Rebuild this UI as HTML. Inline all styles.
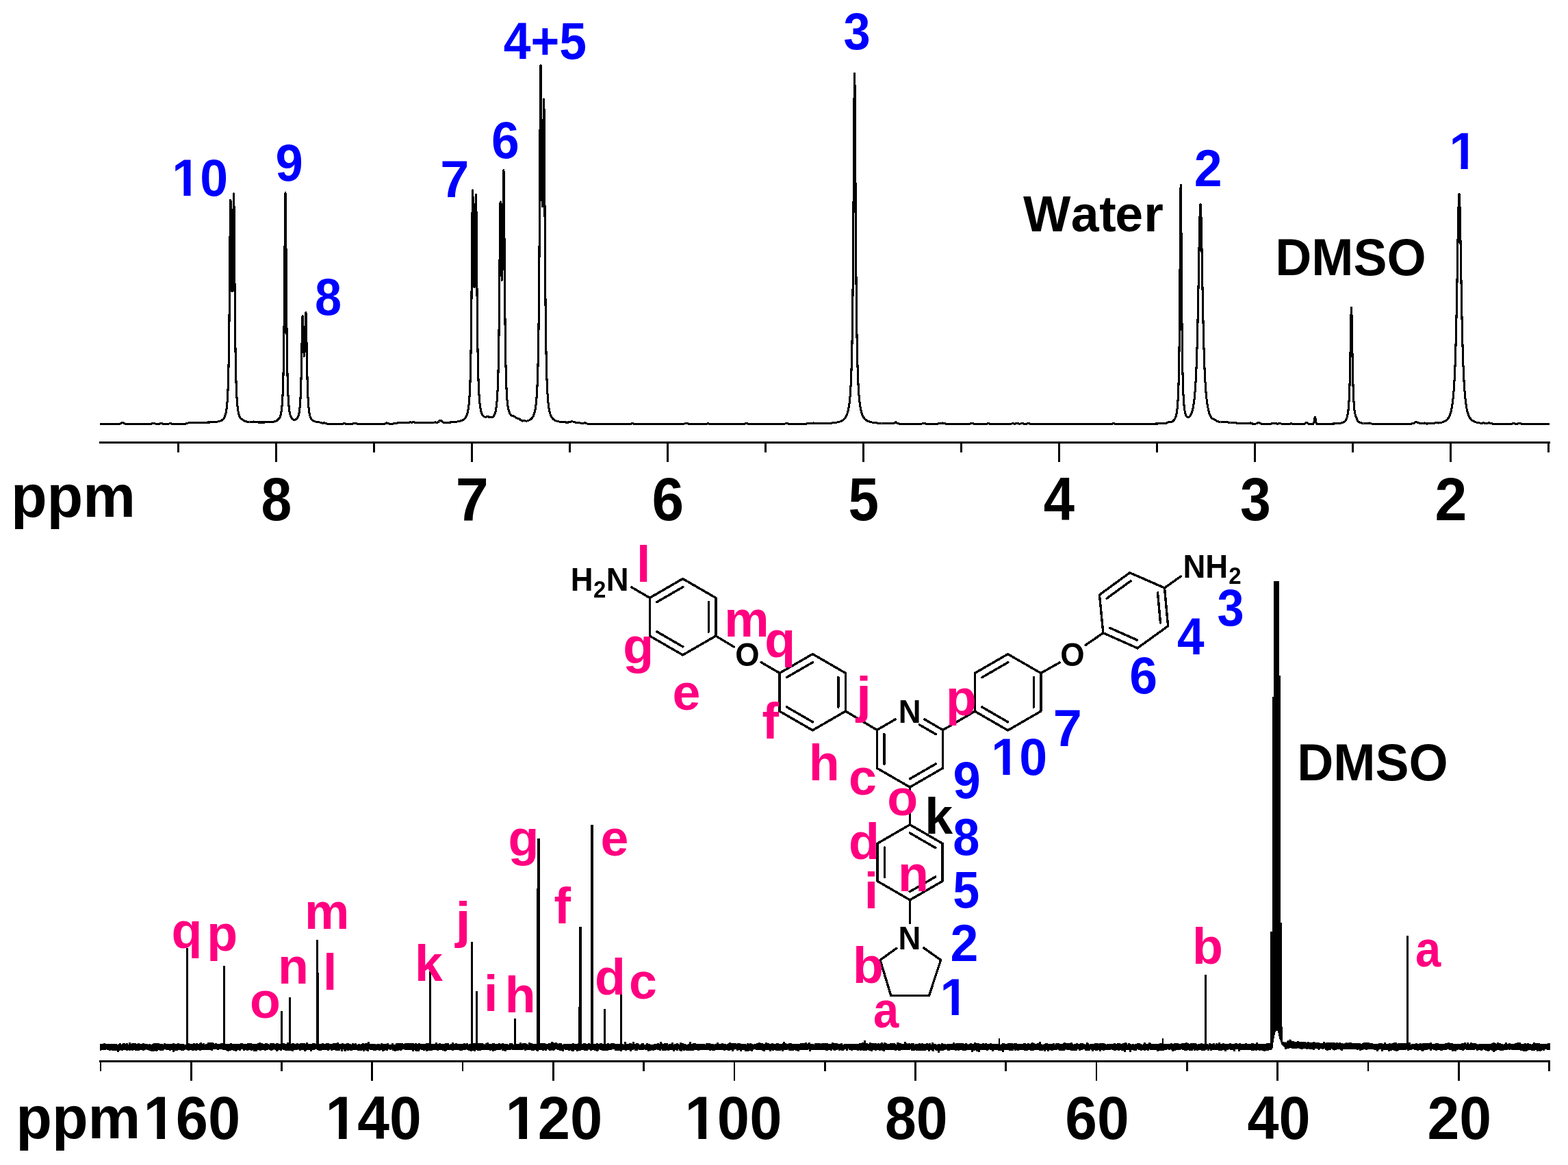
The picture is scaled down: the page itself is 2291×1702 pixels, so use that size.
<!DOCTYPE html>
<html><head><meta charset="utf-8"><title>NMR spectra</title>
<style>
html,body{margin:0;padding:0;background:#fff;width:2291px;height:1702px;}
svg{display:block;}
text{font-family:"Liberation Sans",Arial,Helvetica,sans-serif;font-weight:bold;}
</style></head>
<body>
<svg width="2291" height="1702" viewBox="0 0 2291 1702">
<defs><clipPath id="c1_735" clipPathUnits="userSpaceOnUse"><path d="M-5,-73.5 H441 V7.4 H39.7 V-7.94 H27.24 V1.5 H17.15 V-7.94 H-5 Z"/></clipPath><clipPath id="c1_863" clipPathUnits="userSpaceOnUse"><path d="M-5,-86.3 H518 V8.6 H46.6 V-9.32 H31.98 V1.7 H20.14 V-9.32 H-5 Z"/></clipPath></defs>
<rect width="2291" height="1702" fill="#fff"/>
<path d="M146.0,619.4 146.5,619.4 147.0,619.4 147.5,619.4 148.0,619.4 148.5,619.4 149.0,619.4 149.5,619.4 150.0,619.4 150.5,619.4 151.0,619.4 151.5,619.4 152.0,619.4 152.5,619.4 153.0,619.4 153.5,619.4 154.0,619.4 154.5,619.4 155.0,619.4 155.5,619.4 156.0,619.4 156.5,619.4 157.0,619.4 157.5,619.4 158.0,619.4 158.5,619.4 159.0,619.4 159.5,619.4 160.0,619.4 160.5,619.4 161.0,619.4 161.5,619.4 162.0,619.4 162.5,619.4 163.0,619.4 163.5,619.4 164.0,619.4 164.5,619.4 165.0,619.4 165.5,619.4 166.0,619.4 166.5,619.4 167.0,619.4 167.5,619.4 168.0,619.4 168.5,619.4 169.0,619.4 169.5,619.4 170.0,619.4 170.5,619.4 171.0,619.4 171.5,619.4 172.0,619.4 172.5,619.4 173.0,619.4 173.5,619.4 174.0,619.3 174.5,619.2 175.0,619.1 175.5,619.0 176.0,618.8 176.5,618.5 177.0,618.2 177.5,618.0 178.0,617.7 178.5,617.6 179.0,617.5 179.5,617.6 180.0,617.8 180.5,618.0 181.0,618.3 181.5,618.6 182.0,618.8 182.5,619.0 183.0,619.2 183.5,619.3 184.0,619.3 184.5,619.4 185.0,619.4 185.5,619.4 186.0,619.4 186.5,619.4 187.0,619.4 187.5,619.4 188.0,619.4 188.5,619.4 189.0,619.4 189.5,619.4 190.0,619.4 190.5,619.4 191.0,619.4 191.5,619.4 192.0,619.4 192.5,619.4 193.0,619.4 193.5,619.4 194.0,619.4 194.5,619.4 195.0,619.4 195.5,619.4 196.0,619.4 196.5,619.4 197.0,619.4 197.5,619.4 198.0,619.4 198.5,619.4 199.0,619.4 199.5,619.4 200.0,619.4 200.5,619.4 201.0,619.4 201.5,619.4 202.0,619.4 202.5,619.4 203.0,619.4 203.5,619.4 204.0,619.4 204.5,619.4 205.0,619.4 205.5,619.4 206.0,619.4 206.5,619.4 207.0,619.4 207.5,619.4 208.0,619.4 208.5,619.4 209.0,619.4 209.5,619.4 210.0,619.4 210.5,619.4 211.0,619.4 211.5,619.4 212.0,619.4 212.5,619.4 213.0,619.4 213.5,619.4 214.0,619.4 214.5,619.4 215.0,619.4 215.5,619.4 216.0,619.4 216.5,619.4 217.0,619.4 217.5,619.4 218.0,619.4 218.5,619.4 219.0,619.4 219.5,619.4 220.0,619.3 220.5,619.3 221.0,619.1 221.5,618.9 222.0,618.7 222.5,618.5 223.0,618.5 223.5,618.6 224.0,618.6 224.5,618.6 225.0,618.6 225.5,618.6 226.0,618.7 226.5,618.8 227.0,619.0 227.5,619.1 228.0,619.3 228.5,619.3 229.0,619.4 229.5,619.4 230.0,619.4 230.5,619.4 231.0,619.4 231.5,619.4 232.0,619.4 232.5,619.3 233.0,619.2 233.5,619.1 234.0,618.9 234.5,618.7 235.0,618.5 235.5,618.4 236.0,618.5 236.5,618.7 237.0,619.0 237.5,619.2 238.0,619.3 238.5,619.3 239.0,619.4 239.5,619.4 240.0,619.4 240.5,619.4 241.0,619.4 241.5,619.4 242.0,619.4 242.5,619.4 243.0,619.4 243.5,619.4 244.0,619.4 244.5,619.4 245.0,619.4 245.5,619.3 246.0,619.3 246.5,619.2 247.0,619.0 247.5,618.8 248.0,618.6 248.5,618.5 249.0,618.5 249.5,618.7 250.0,618.9 250.5,619.1 251.0,619.2 251.5,619.3 252.0,619.3 252.5,619.4 253.0,619.4 253.5,619.4 254.0,619.4 254.5,619.4 255.0,619.4 255.5,619.4 256.0,619.4 256.5,619.4 257.0,619.4 257.5,619.4 258.0,619.4 258.5,619.4 259.0,619.4 259.5,619.4 260.0,619.3 260.5,619.3 261.0,619.3 261.5,619.3 262.0,619.3 262.5,619.3 263.0,619.3 263.5,619.3 264.0,619.3 264.5,619.3 265.0,619.3 265.5,619.3 266.0,619.3 266.5,619.3 267.0,619.3 267.5,619.3 268.0,619.3 268.5,619.3 269.0,619.3 269.5,619.2 270.0,619.2 270.5,619.2 271.0,619.1 271.5,619.0 272.0,618.9 272.5,618.8 273.0,618.6 273.5,618.5 274.0,618.3 274.5,618.2 275.0,618.0 275.5,617.9 276.0,617.7 276.5,617.6 277.0,617.5 277.5,617.5 278.0,617.4 278.5,617.4 279.0,617.4 279.5,617.4 280.0,617.3 280.5,617.3 281.0,617.3 281.5,617.3 282.0,617.3 282.5,617.3 283.0,617.3 283.5,617.3 284.0,617.3 284.5,617.3 285.0,617.3 285.5,617.3 286.0,617.3 286.5,617.3 287.0,617.3 287.5,617.3 288.0,617.3 288.5,617.3 289.0,617.2 289.5,617.2 290.0,617.2 290.5,617.2 291.0,617.2 291.5,617.2 292.0,617.2 292.5,617.2 293.0,617.2 293.5,617.2 294.0,617.2 294.5,617.2 295.0,617.2 295.5,617.2 296.0,617.2 296.5,617.2 297.0,617.2 297.5,617.2 298.0,617.2 298.5,617.1 299.0,617.1 299.5,617.1 300.0,617.1 300.5,617.1 301.0,617.1 301.5,617.1 302.0,617.1 302.5,617.1 303.0,617.1 303.5,617.0 304.0,617.0 304.5,617.0 305.0,617.0 305.5,617.0 306.0,617.0 306.5,617.0 307.0,616.9 307.5,616.9 308.0,616.9 308.5,616.9 309.0,616.9 309.5,616.8 310.0,616.8 310.5,616.8 311.0,616.7 311.5,616.7 312.0,616.7 312.5,616.6 313.0,616.6 313.5,616.6 314.0,616.5 314.5,616.5 315.0,616.4 315.5,616.4 316.0,616.3 316.5,616.2 317.0,616.2 317.5,616.1 318.0,616.0 318.5,615.9 319.0,615.8 319.5,615.7 320.0,615.6 320.5,615.5 321.0,615.3 321.5,615.2 322.0,615.0 322.5,614.8 323.0,614.5 323.5,614.3 324.0,614.0 324.5,613.7 325.0,613.3 325.5,612.9 326.0,612.4 326.5,611.8 327.0,611.1 327.5,610.3 328.0,609.4 328.5,608.3 329.0,606.9 329.5,605.3 330.0,603.2 330.5,600.6 331.0,597.4 331.5,593.1 332.0,587.6 332.5,580.2 333.0,570.0 333.5,555.8 334.0,535.8 334.5,507.2 335.0,466.9 335.5,413.4 336.0,352.5 336.5,304.0 336.8,292.2 337.0,293.5 337.5,323.7 338.0,369.8 338.5,407.4 339.0,425.8 339.5,422.7 340.0,398.1 340.5,355.3 341.0,307.8 341.5,282.8 341.6,282.9 342.0,302.2 342.5,356.6 343.0,418.9 343.5,471.6 344.0,510.8 344.5,538.4 345.0,557.7 345.5,571.3 346.0,581.0 346.5,588.2 347.0,593.6 347.5,597.7 348.0,600.9 348.5,603.4 349.0,605.4 349.5,607.0 350.0,608.4 350.5,609.5 351.0,610.4 351.5,611.1 352.0,611.7 352.5,612.1 353.0,612.4 353.5,612.6 354.0,612.8 354.5,613.1 355.0,613.4 355.5,613.8 356.0,614.2 356.5,614.6 357.0,614.9 357.5,615.2 358.0,615.4 358.5,615.5 359.0,615.7 359.5,615.8 360.0,615.9 360.5,616.0 361.0,616.1 361.5,616.1 362.0,616.2 362.5,616.3 363.0,616.3 363.5,616.4 364.0,616.4 364.5,616.5 365.0,616.5 365.5,616.5 366.0,616.6 366.5,616.6 367.0,616.6 367.5,616.7 368.0,616.7 368.5,616.7 369.0,616.5 369.5,616.3 370.0,616.0 370.5,615.9 371.0,616.1 371.5,616.4 372.0,616.7 372.5,616.8 373.0,616.9 373.5,616.9 374.0,616.9 374.5,616.9 375.0,616.9 375.5,616.9 376.0,616.9 376.5,616.9 377.0,617.0 377.5,617.0 378.0,617.0 378.5,617.0 379.0,617.0 379.5,617.0 380.0,617.0 380.5,617.0 381.0,617.0 381.5,617.0 382.0,617.0 382.5,617.0 383.0,617.0 383.5,617.0 384.0,617.0 384.5,617.0 385.0,617.0 385.5,617.0 386.0,617.0 386.5,617.0 387.0,616.9 387.5,616.9 388.0,616.9 388.5,616.9 389.0,616.9 389.5,616.9 390.0,616.9 390.5,616.9 391.0,616.9 391.5,616.8 392.0,616.8 392.5,616.8 393.0,616.8 393.5,616.7 394.0,616.7 394.5,616.7 395.0,616.7 395.5,616.6 396.0,616.6 396.5,616.5 397.0,616.5 397.5,616.5 398.0,616.4 398.5,616.3 399.0,616.3 399.5,616.2 400.0,616.1 400.5,616.0 401.0,615.9 401.5,615.8 402.0,615.7 402.5,615.5 403.0,615.4 403.5,615.1 404.0,614.8 404.5,614.4 405.0,613.9 405.5,613.3 406.0,612.8 406.5,612.3 407.0,612.0 407.5,611.6 408.0,611.1 408.5,610.4 409.0,609.4 409.5,608.1 410.0,606.4 410.5,604.3 411.0,601.6 411.5,598.0 412.0,593.2 412.5,586.8 413.0,577.9 413.5,565.4 414.0,547.5 414.5,521.6 415.0,484.2 415.5,432.3 416.0,368.2 416.5,307.9 417.0,281.8 417.5,307.9 418.0,368.2 418.5,432.2 419.0,484.0 419.5,521.4 420.0,547.3 420.5,565.2 421.0,577.6 421.5,586.5 422.0,592.9 422.5,597.6 423.0,601.1 423.5,603.8 424.0,605.9 424.5,607.5 425.0,608.8 425.5,609.9 426.0,610.7 426.5,611.3 427.0,611.9 427.5,612.3 428.0,612.6 428.5,612.9 429.0,613.1 429.5,613.2 430.0,613.2 430.5,613.2 431.0,613.2 431.5,613.1 432.0,612.9 432.5,612.7 433.0,612.4 433.5,612.0 434.0,611.4 434.5,610.7 435.0,609.9 435.5,608.8 436.0,607.4 436.5,605.6 437.0,603.2 437.5,600.1 438.0,595.8 438.5,589.9 439.0,581.7 439.5,570.1 440.0,553.9 440.5,532.0 441.0,505.0 441.5,478.2 442.0,462.2 442.1,461.2 442.5,464.9 443.0,482.1 443.5,501.9 444.0,515.8 444.5,520.3 445.0,514.6 445.5,499.5 446.0,478.4 446.5,460.3 446.9,456.2 447.0,457.2 447.5,473.7 448.0,501.4 448.5,529.4 449.0,552.2 449.5,569.0 450.0,581.0 450.5,589.5 451.0,595.7 451.5,600.1 452.0,603.4 452.5,605.9 453.0,607.9 453.5,609.4 454.0,610.6 454.5,611.5 455.0,612.3 455.5,612.9 456.0,613.5 456.5,613.9 457.0,614.3 457.5,614.6 458.0,614.9 458.5,615.1 459.0,615.3 459.5,615.5 460.0,615.7 460.5,615.8 461.0,616.0 461.5,616.1 462.0,616.2 462.5,616.3 463.0,616.3 463.5,616.4 464.0,616.5 464.5,616.6 465.0,616.6 465.5,616.7 466.0,616.8 466.5,616.9 467.0,617.0 467.5,617.1 468.0,617.2 468.5,617.4 469.0,617.5 469.5,617.7 470.0,617.9 470.5,618.0 471.0,618.1 471.5,618.1 472.0,618.1 472.5,618.0 473.0,617.9 473.5,617.8 474.0,617.8 474.5,617.9 475.0,618.0 475.5,618.3 476.0,618.5 476.5,618.7 477.0,618.9 477.5,619.0 478.0,619.1 478.5,619.1 479.0,619.1 479.5,619.2 480.0,619.2 480.5,619.2 481.0,619.2 481.5,619.2 482.0,619.2 482.5,619.2 483.0,619.2 483.5,619.2 484.0,619.2 484.5,619.2 485.0,619.2 485.5,619.2 486.0,619.2 486.5,619.2 487.0,619.3 487.5,619.3 488.0,619.3 488.5,619.3 489.0,619.3 489.5,619.3 490.0,619.3 490.5,619.3 491.0,619.3 491.5,619.3 492.0,619.3 492.5,619.3 493.0,619.3 493.5,619.3 494.0,619.3 494.5,619.3 495.0,619.3 495.5,619.3 496.0,619.3 496.5,619.3 497.0,619.3 497.5,619.3 498.0,619.3 498.5,619.3 499.0,619.3 499.5,619.3 500.0,619.3 500.5,619.3 501.0,619.3 501.5,619.2 502.0,619.0 502.5,618.7 503.0,618.3 503.5,618.1 504.0,618.3 504.5,618.7 505.0,619.1 505.5,619.2 506.0,619.3 506.5,619.3 507.0,619.3 507.5,619.3 508.0,619.3 508.5,619.3 509.0,619.3 509.5,619.3 510.0,619.3 510.5,619.3 511.0,619.3 511.5,619.3 512.0,619.3 512.5,619.3 513.0,619.3 513.5,619.3 514.0,619.3 514.5,619.2 515.0,619.1 515.5,619.0 516.0,618.9 516.5,618.7 517.0,618.5 517.5,618.4 518.0,618.2 518.5,618.2 519.0,618.2 519.5,618.3 520.0,618.4 520.5,618.6 521.0,618.8 521.5,619.0 522.0,619.1 522.5,619.2 523.0,619.3 523.5,619.3 524.0,619.3 524.5,619.3 525.0,619.3 525.5,619.3 526.0,619.4 526.5,619.4 527.0,619.4 527.5,619.4 528.0,619.4 528.5,619.4 529.0,619.4 529.5,619.4 530.0,619.4 530.5,619.4 531.0,619.4 531.5,619.4 532.0,619.4 532.5,619.4 533.0,619.4 533.5,619.4 534.0,619.4 534.5,619.4 535.0,619.4 535.5,619.4 536.0,619.4 536.5,619.4 537.0,619.4 537.5,619.4 538.0,619.4 538.5,619.4 539.0,619.4 539.5,619.4 540.0,619.4 540.5,619.4 541.0,619.4 541.5,619.4 542.0,619.4 542.5,619.4 543.0,619.4 543.5,619.4 544.0,619.4 544.5,619.4 545.0,619.4 545.5,619.4 546.0,619.4 546.5,619.4 547.0,619.4 547.5,619.4 548.0,619.4 548.5,619.4 549.0,619.4 549.5,619.4 550.0,619.4 550.5,619.4 551.0,619.4 551.5,619.4 552.0,619.4 552.5,619.4 553.0,619.4 553.5,619.4 554.0,619.4 554.5,619.4 555.0,619.4 555.5,619.4 556.0,619.4 556.5,619.4 557.0,619.4 557.5,619.4 558.0,619.4 558.5,619.4 559.0,619.4 559.5,619.4 560.0,619.4 560.5,619.3 561.0,619.3 561.5,619.3 562.0,619.3 562.5,619.2 563.0,618.9 563.5,618.5 564.0,618.1 564.5,617.8 565.0,617.8 565.5,618.0 566.0,618.2 566.5,618.4 567.0,618.6 567.5,618.7 568.0,618.9 568.5,619.0 569.0,619.1 569.5,619.2 570.0,619.2 570.5,619.3 571.0,619.3 571.5,619.3 572.0,619.2 572.5,619.2 573.0,619.2 573.5,619.1 574.0,619.1 574.5,619.0 575.0,618.9 575.5,618.8 576.0,618.7 576.5,618.7 577.0,618.6 577.5,618.5 578.0,618.4 578.5,618.3 579.0,618.2 579.5,618.1 580.0,618.0 580.5,618.0 581.0,617.9 581.5,617.9 582.0,617.9 582.5,617.8 583.0,617.8 583.5,617.8 584.0,617.8 584.5,617.8 585.0,617.8 585.5,617.8 586.0,617.8 586.5,617.8 587.0,617.8 587.5,617.8 588.0,617.8 588.5,617.7 589.0,617.7 589.5,617.7 590.0,617.7 590.5,617.7 591.0,617.7 591.5,617.7 592.0,617.7 592.5,617.7 593.0,617.7 593.5,617.7 594.0,617.7 594.5,617.7 595.0,617.7 595.5,617.7 596.0,617.7 596.5,617.7 597.0,617.6 597.5,617.5 598.0,617.2 598.5,616.9 599.0,616.6 599.5,616.5 600.0,616.7 600.5,616.9 601.0,617.2 601.5,617.3 602.0,617.3 602.5,617.1 603.0,616.8 603.5,616.6 604.0,616.6 604.5,616.7 605.0,616.9 605.5,617.2 606.0,617.4 606.5,617.6 607.0,617.7 607.5,617.7 608.0,617.7 608.5,617.7 609.0,617.7 609.5,617.7 610.0,617.7 610.5,617.7 611.0,617.7 611.5,617.7 612.0,617.7 612.5,617.7 613.0,617.7 613.5,617.7 614.0,617.7 614.5,617.7 615.0,617.7 615.5,617.7 616.0,617.7 616.5,617.7 617.0,617.7 617.5,617.7 618.0,617.7 618.5,617.7 619.0,617.7 619.5,617.7 620.0,617.7 620.5,617.7 621.0,617.7 621.5,617.7 622.0,617.7 622.5,617.7 623.0,617.7 623.5,617.7 624.0,617.7 624.5,617.7 625.0,617.7 625.5,617.7 626.0,617.7 626.5,617.7 627.0,617.7 627.5,617.7 628.0,617.7 628.5,617.7 629.0,617.7 629.5,617.7 630.0,617.6 630.5,617.6 631.0,617.6 631.5,617.6 632.0,617.6 632.5,617.6 633.0,617.6 633.5,617.5 634.0,617.4 634.5,617.2 635.0,617.0 635.5,616.9 636.0,616.9 636.5,617.1 637.0,617.2 637.5,617.4 638.0,617.4 638.5,617.4 639.0,617.2 639.5,617.0 640.0,616.7 640.5,616.4 641.0,615.9 641.5,615.5 642.0,615.0 642.5,614.7 643.0,614.4 643.5,614.3 644.0,614.4 644.5,614.6 645.0,615.0 645.5,615.4 646.0,615.9 646.5,616.3 647.0,616.6 647.5,616.9 648.0,617.1 648.5,617.2 649.0,617.3 649.5,617.3 650.0,617.3 650.5,617.3 651.0,617.3 651.5,617.3 652.0,617.3 652.5,617.3 653.0,617.2 653.5,617.2 654.0,617.2 654.5,617.2 655.0,617.2 655.5,617.1 656.0,617.1 656.5,617.1 657.0,617.1 657.5,617.0 658.0,617.0 658.5,617.0 659.0,616.9 659.5,616.9 660.0,616.9 660.5,616.8 661.0,616.8 661.5,616.8 662.0,616.7 662.5,616.7 663.0,616.6 663.5,616.6 664.0,616.5 664.5,616.5 665.0,616.4 665.5,616.4 666.0,616.3 666.5,616.2 667.0,616.2 667.5,616.1 668.0,616.0 668.5,615.9 669.0,615.8 669.5,615.7 670.0,615.6 670.5,615.5 671.0,615.4 671.5,615.3 672.0,615.2 672.5,615.1 673.0,614.9 673.5,614.7 674.0,614.6 674.5,614.4 675.0,614.2 675.5,614.0 676.0,613.7 676.5,613.4 677.0,613.1 677.5,612.8 678.0,612.4 678.5,612.0 679.0,611.5 679.5,611.0 680.0,610.3 680.5,609.6 681.0,608.8 681.5,607.8 682.0,606.6 682.5,605.2 683.0,603.5 683.5,601.5 684.0,599.0 684.5,595.8 685.0,591.8 685.5,586.5 686.0,579.7 686.5,570.5 687.0,557.9 687.5,540.4 688.0,515.7 688.5,481.1 689.0,433.7 689.5,374.7 690.0,315.5 690.5,280.1 690.6,278.0 691.0,287.5 691.5,327.7 692.0,373.7 692.5,406.7 693.0,419.9 693.5,412.3 694.0,384.6 694.5,341.8 695.0,299.6 695.5,284.4 696.0,311.4 696.5,366.7 697.0,425.7 697.5,474.6 698.0,510.8 698.5,536.5 699.0,554.7 699.5,567.6 700.0,576.9 700.5,583.8 701.0,589.1 701.5,593.1 702.0,596.4 702.5,599.0 703.0,601.2 703.5,602.9 704.0,604.4 704.5,605.5 705.0,606.5 705.5,607.2 706.0,607.8 706.5,608.2 707.0,608.6 707.5,608.8 708.0,609.0 708.5,609.1 709.0,609.2 709.5,609.3 710.0,609.3 710.5,609.2 711.0,609.0 711.5,608.7 712.0,608.3 712.5,608.1 713.0,608.2 713.5,608.6 714.0,609.0 714.5,609.4 715.0,609.6 715.5,609.7 716.0,609.7 716.5,609.8 717.0,609.8 717.5,609.8 718.0,609.8 718.5,609.7 719.0,609.6 719.5,609.4 720.0,609.1 720.5,608.7 721.0,608.3 721.5,607.7 722.0,606.9 722.5,605.9 723.0,604.8 723.5,603.3 724.0,601.4 724.5,599.1 725.0,596.0 725.5,592.0 726.0,586.8 726.5,580.2 727.0,571.6 727.5,560.0 728.0,543.7 728.5,520.6 729.0,487.9 729.5,443.3 730.0,387.6 730.5,331.4 731.0,297.2 731.1,294.9 731.5,302.4 732.0,337.7 732.5,377.4 733.0,403.6 733.5,409.3 734.0,393.1 734.5,355.6 735.0,304.2 735.5,259.4 735.9,248.6 736.0,250.8 736.5,289.2 737.0,353.9 737.5,418.4 738.0,470.1 738.5,507.9 739.0,534.7 739.5,553.7 740.0,567.2 740.5,577.0 741.0,584.1 741.5,589.4 742.0,593.3 742.5,596.3 743.0,598.6 743.5,600.4 744.0,601.9 744.5,603.2 745.0,604.2 745.5,605.1 746.0,605.8 746.5,606.4 747.0,606.8 747.5,607.1 748.0,607.4 748.5,607.5 749.0,607.7 749.5,607.8 750.0,607.9 750.5,608.1 751.0,608.3 751.5,608.5 752.0,608.8 752.5,609.1 753.0,609.4 753.5,609.7 754.0,610.1 754.5,610.4 755.0,610.7 755.5,611.0 756.0,611.2 756.5,611.4 757.0,611.5 757.5,611.6 758.0,611.8 758.5,612.0 759.0,612.2 759.5,612.5 760.0,612.9 760.5,613.4 761.0,613.8 761.5,614.2 762.0,614.6 762.5,614.8 763.0,615.0 763.5,615.0 764.0,614.9 764.5,614.8 765.0,614.7 765.5,614.6 766.0,614.6 766.5,614.7 767.0,614.8 767.5,614.9 768.0,615.0 768.5,615.1 769.0,615.1 769.5,615.1 770.0,615.0 770.5,614.9 771.0,614.7 771.5,614.6 772.0,614.4 772.5,614.2 773.0,614.0 773.5,613.8 774.0,613.5 774.5,613.2 775.0,612.9 775.5,612.5 776.0,612.1 776.5,611.6 777.0,611.1 777.5,610.5 778.0,609.8 778.5,609.0 779.0,608.1 779.5,607.1 780.0,605.8 780.5,604.4 781.0,602.7 781.5,600.7 782.0,598.2 782.5,595.2 783.0,591.6 783.5,587.0 784.0,581.2 784.5,573.9 785.0,564.3 785.5,551.6 786.0,534.5 786.5,511.1 787.0,478.6 787.5,433.5 788.0,371.6 788.5,291.5 789.0,200.5 789.5,123.6 789.9,96.0 790.0,95.4 790.5,127.3 791.0,192.2 791.5,254.2 792.0,292.8 792.5,301.6 793.0,280.5 793.5,234.5 794.0,179.2 794.5,145.3 794.7,145.1 795.0,161.5 795.5,225.1 796.0,306.9 796.5,381.9 797.0,440.7 797.5,484.0 798.0,515.1 798.5,537.6 799.0,554.1 799.5,566.3 800.0,575.5 800.5,582.6 801.0,588.2 801.5,592.6 802.0,596.1 802.5,599.0 803.0,601.3 803.5,603.3 804.0,605.0 804.5,606.4 805.0,607.6 805.5,608.6 806.0,609.5 806.5,610.2 807.0,610.9 807.5,611.5 808.0,612.0 808.5,612.5 809.0,612.9 809.5,613.2 810.0,613.6 810.5,613.9 811.0,614.1 811.5,614.4 812.0,614.6 812.5,614.8 813.0,615.0 813.5,615.2 814.0,615.3 814.5,615.4 815.0,615.6 815.5,615.7 816.0,615.8 816.5,615.9 817.0,616.0 817.5,616.1 818.0,616.2 818.5,616.3 819.0,616.3 819.5,616.4 820.0,616.5 820.5,616.5 821.0,616.6 821.5,616.6 822.0,616.7 822.5,616.7 823.0,616.8 823.5,616.8 824.0,616.8 824.5,616.9 825.0,616.9 825.5,616.9 826.0,617.0 826.5,617.0 827.0,617.0 827.5,617.0 828.0,617.1 828.5,617.1 829.0,617.1 829.5,617.0 830.0,617.0 830.5,617.0 831.0,616.9 831.5,616.8 832.0,616.7 832.5,616.6 833.0,616.4 833.5,616.3 834.0,616.1 834.5,616.0 835.0,615.9 835.5,615.9 836.0,615.9 836.5,615.9 837.0,616.0 837.5,616.1 838.0,616.2 838.5,616.4 839.0,616.6 839.5,616.7 840.0,616.9 840.5,617.0 841.0,617.2 841.5,617.3 842.0,617.3 842.5,617.4 843.0,617.5 843.5,617.5 844.0,617.6 844.5,617.6 845.0,617.6 845.5,617.7 846.0,617.7 846.5,617.8 847.0,617.8 847.5,617.9 848.0,618.0 848.5,618.1 849.0,618.2 849.5,618.3 850.0,618.3 850.5,618.4 851.0,618.5 851.5,618.5 852.0,618.4 852.5,618.3 853.0,618.2 853.5,618.1 854.0,617.9 854.5,617.9 855.0,617.9 855.5,618.1 856.0,618.3 856.5,618.5 857.0,618.7 857.5,618.9 858.0,619.0 858.5,619.1 859.0,619.2 859.5,619.2 860.0,619.2 860.5,619.2 861.0,619.2 861.5,619.2 862.0,619.2 862.5,619.2 863.0,619.3 863.5,619.3 864.0,619.3 864.5,619.3 865.0,619.3 865.5,619.3 866.0,619.3 866.5,619.3 867.0,619.3 867.5,619.3 868.0,619.3 868.5,619.3 869.0,619.3 869.5,619.3 870.0,619.3 870.5,619.3 871.0,619.3 871.5,619.3 872.0,619.3 872.5,619.3 873.0,619.3 873.5,619.3 874.0,619.3 874.5,619.3 875.0,619.3 875.5,619.3 876.0,619.3 876.5,619.3 877.0,619.3 877.5,619.3 878.0,619.3 878.5,619.3 879.0,619.3 879.5,619.3 880.0,619.3 880.5,619.3 881.0,619.3 881.5,619.3 882.0,619.3 882.5,619.3 883.0,619.3 883.5,619.3 884.0,619.3 884.5,619.3 885.0,619.3 885.5,619.3 886.0,619.3 886.5,619.3 887.0,619.3 887.5,619.3 888.0,619.3 888.5,619.3 889.0,619.3 889.5,619.3 890.0,619.3 890.5,619.3 891.0,619.3 891.5,619.3 892.0,619.3 892.5,619.3 893.0,619.3 893.5,619.3 894.0,619.3 894.5,619.3 895.0,619.3 895.5,619.3 896.0,619.3 896.5,619.3 897.0,619.3 897.5,619.3 898.0,619.3 898.5,619.3 899.0,619.3 899.5,619.3 900.0,619.3 900.5,619.3 901.0,619.3 901.5,619.3 902.0,619.3 902.5,619.3 903.0,619.3 903.5,619.3 904.0,619.3 904.5,619.3 905.0,619.3 905.5,619.3 906.0,619.3 906.5,619.3 907.0,619.3 907.5,619.3 908.0,619.3 908.5,619.3 909.0,619.3 909.5,619.3 910.0,619.3 910.5,619.3 911.0,619.3 911.5,619.3 912.0,619.3 912.5,619.3 913.0,619.3 913.5,619.4 914.0,619.4 914.5,619.4 915.0,619.4 915.5,619.4 916.0,619.4 916.5,619.4 917.0,619.4 917.5,619.4 918.0,619.4 918.5,619.4 919.0,619.4 919.5,619.4 920.0,619.4 920.5,619.4 921.0,619.4 921.5,619.3 922.0,619.3 922.5,619.2 923.0,619.0 923.5,618.7 924.0,618.6 924.5,618.6 925.0,618.8 925.5,619.1 926.0,619.2 926.5,619.3 927.0,619.4 927.5,619.4 928.0,619.4 928.5,619.4 929.0,619.4 929.5,619.4 930.0,619.4 930.5,619.4 931.0,619.4 931.5,619.4 932.0,619.4 932.5,619.4 933.0,619.4 933.5,619.4 934.0,619.4 934.5,619.4 935.0,619.4 935.5,619.4 936.0,619.4 936.5,619.4 937.0,619.4 937.5,619.4 938.0,619.4 938.5,619.4 939.0,619.4 939.5,619.4 940.0,619.4 940.5,619.4 941.0,619.4 941.5,619.4 942.0,619.4 942.5,619.4 943.0,619.4 943.5,619.4 944.0,619.4 944.5,619.4 945.0,619.4 945.5,619.4 946.0,619.4 946.5,619.4 947.0,619.4 947.5,619.4 948.0,619.4 948.5,619.4 949.0,619.4 949.5,619.4 950.0,619.4 950.5,619.4 951.0,619.4 951.5,619.4 952.0,619.4 952.5,619.4 953.0,619.4 953.5,619.4 954.0,619.4 954.5,619.4 955.0,619.4 955.5,619.4 956.0,619.4 956.5,619.4 957.0,619.4 957.5,619.4 958.0,619.4 958.5,619.4 959.0,619.4 959.5,619.4 960.0,619.4 960.5,619.4 961.0,619.4 961.5,619.4 962.0,619.4 962.5,619.4 963.0,619.4 963.5,619.4 964.0,619.4 964.5,619.4 965.0,619.4 965.5,619.4 966.0,619.4 966.5,619.4 967.0,619.4 967.5,619.4 968.0,619.4 968.5,619.4 969.0,619.4 969.5,619.4 970.0,619.4 970.5,619.4 971.0,619.4 971.5,619.4 972.0,619.4 972.5,619.4 973.0,619.4 973.5,619.4 974.0,619.4 974.5,619.4 975.0,619.4 975.5,619.4 976.0,619.4 976.5,619.4 977.0,619.4 977.5,619.4 978.0,619.4 978.5,619.4 979.0,619.4 979.5,619.4 980.0,619.4 980.5,619.4 981.0,619.4 981.5,619.4 982.0,619.4 982.5,619.4 983.0,619.4 983.5,619.4 984.0,619.4 984.5,619.4 985.0,619.4 985.5,619.4 986.0,619.4 986.5,619.4 987.0,619.4 987.5,619.4 988.0,619.4 988.5,619.4 989.0,619.4 989.5,619.4 990.0,619.4 990.5,619.4 991.0,619.4 991.5,619.4 992.0,619.4 992.5,619.4 993.0,619.4 993.5,619.4 994.0,619.4 994.5,619.4 995.0,619.4 995.5,619.4 996.0,619.4 996.5,619.4 997.0,619.4 997.5,619.4 998.0,619.3 998.5,619.3 999.0,619.3 999.5,619.2 1000.0,619.0 1000.5,618.8 1001.0,618.6 1001.5,618.4 1002.0,618.2 1002.5,618.1 1003.0,618.1 1003.5,618.2 1004.0,618.4 1004.5,618.6 1005.0,618.8 1005.5,619.0 1006.0,619.1 1006.5,619.2 1007.0,619.3 1007.5,619.3 1008.0,619.4 1008.5,619.4 1009.0,619.4 1009.5,619.4 1010.0,619.4 1010.5,619.4 1011.0,619.4 1011.5,619.4 1012.0,619.4 1012.5,619.4 1013.0,619.4 1013.5,619.4 1014.0,619.4 1014.5,619.4 1015.0,619.4 1015.5,619.4 1016.0,619.4 1016.5,619.4 1017.0,619.4 1017.5,619.4 1018.0,619.4 1018.5,619.4 1019.0,619.4 1019.5,619.4 1020.0,619.4 1020.5,619.4 1021.0,619.4 1021.5,619.4 1022.0,619.4 1022.5,619.4 1023.0,619.4 1023.5,619.4 1024.0,619.4 1024.5,619.4 1025.0,619.4 1025.5,619.4 1026.0,619.4 1026.5,619.4 1027.0,619.4 1027.5,619.4 1028.0,619.4 1028.5,619.4 1029.0,619.4 1029.5,619.4 1030.0,619.4 1030.5,619.4 1031.0,619.4 1031.5,619.4 1032.0,619.3 1032.5,619.2 1033.0,619.1 1033.5,618.9 1034.0,618.7 1034.5,618.6 1035.0,618.7 1035.5,618.9 1036.0,619.1 1036.5,619.2 1037.0,619.3 1037.5,619.4 1038.0,619.4 1038.5,619.4 1039.0,619.4 1039.5,619.4 1040.0,619.4 1040.5,619.4 1041.0,619.4 1041.5,619.4 1042.0,619.4 1042.5,619.4 1043.0,619.4 1043.5,619.4 1044.0,619.4 1044.5,619.4 1045.0,619.4 1045.5,619.4 1046.0,619.4 1046.5,619.4 1047.0,619.4 1047.5,619.4 1048.0,619.4 1048.5,619.4 1049.0,619.4 1049.5,619.4 1050.0,619.4 1050.5,619.4 1051.0,619.4 1051.5,619.4 1052.0,619.4 1052.5,619.4 1053.0,619.4 1053.5,619.4 1054.0,619.4 1054.5,619.4 1055.0,619.4 1055.5,619.4 1056.0,619.4 1056.5,619.4 1057.0,619.4 1057.5,619.4 1058.0,619.4 1058.5,619.4 1059.0,619.4 1059.5,619.4 1060.0,619.4 1060.5,619.4 1061.0,619.4 1061.5,619.4 1062.0,619.4 1062.5,619.4 1063.0,619.4 1063.5,619.4 1064.0,619.4 1064.5,619.4 1065.0,619.4 1065.5,619.4 1066.0,619.4 1066.5,619.4 1067.0,619.4 1067.5,619.4 1068.0,619.4 1068.5,619.4 1069.0,619.4 1069.5,619.4 1070.0,619.4 1070.5,619.4 1071.0,619.4 1071.5,619.4 1072.0,619.4 1072.5,619.4 1073.0,619.4 1073.5,619.4 1074.0,619.4 1074.5,619.4 1075.0,619.4 1075.5,619.4 1076.0,619.4 1076.5,619.4 1077.0,619.4 1077.5,619.4 1078.0,619.4 1078.5,619.4 1079.0,619.4 1079.5,619.4 1080.0,619.4 1080.5,619.4 1081.0,619.4 1081.5,619.4 1082.0,619.4 1082.5,619.3 1083.0,619.3 1083.5,619.3 1084.0,619.3 1084.5,619.3 1085.0,619.3 1085.5,619.3 1086.0,619.3 1086.5,619.3 1087.0,619.3 1087.5,619.3 1088.0,619.2 1088.5,619.1 1089.0,618.9 1089.5,618.7 1090.0,618.5 1090.5,618.3 1091.0,618.4 1091.5,618.5 1092.0,618.7 1092.5,618.9 1093.0,619.1 1093.5,619.2 1094.0,619.3 1094.5,619.3 1095.0,619.3 1095.5,619.3 1096.0,619.3 1096.5,619.3 1097.0,619.3 1097.5,619.3 1098.0,619.3 1098.5,619.3 1099.0,619.3 1099.5,619.3 1100.0,619.3 1100.5,619.3 1101.0,619.3 1101.5,619.3 1102.0,619.3 1102.5,619.3 1103.0,619.3 1103.5,619.3 1104.0,619.3 1104.5,619.3 1105.0,619.3 1105.5,619.3 1106.0,619.3 1106.5,619.3 1107.0,619.3 1107.5,619.3 1108.0,619.3 1108.5,619.3 1109.0,619.3 1109.5,619.3 1110.0,619.3 1110.5,619.3 1111.0,619.3 1111.5,619.3 1112.0,619.3 1112.5,619.3 1113.0,619.3 1113.5,619.3 1114.0,619.3 1114.5,619.3 1115.0,619.3 1115.5,619.3 1116.0,619.3 1116.5,619.3 1117.0,619.3 1117.5,619.3 1118.0,619.3 1118.5,619.3 1119.0,619.3 1119.5,619.3 1120.0,619.3 1120.5,619.3 1121.0,619.3 1121.5,619.3 1122.0,619.3 1122.5,619.3 1123.0,619.3 1123.5,619.3 1124.0,619.3 1124.5,619.3 1125.0,619.3 1125.5,619.3 1126.0,619.3 1126.5,619.3 1127.0,619.3 1127.5,619.3 1128.0,619.3 1128.5,619.3 1129.0,619.3 1129.5,619.3 1130.0,619.3 1130.5,619.3 1131.0,619.3 1131.5,619.3 1132.0,619.3 1132.5,619.3 1133.0,619.3 1133.5,619.3 1134.0,619.3 1134.5,619.3 1135.0,619.3 1135.5,619.3 1136.0,619.3 1136.5,619.3 1137.0,619.3 1137.5,619.3 1138.0,619.3 1138.5,619.3 1139.0,619.3 1139.5,619.3 1140.0,619.3 1140.5,619.3 1141.0,619.3 1141.5,619.3 1142.0,619.3 1142.5,619.3 1143.0,619.3 1143.5,619.3 1144.0,619.3 1144.5,619.3 1145.0,619.3 1145.5,619.3 1146.0,619.2 1146.5,619.1 1147.0,619.0 1147.5,618.8 1148.0,618.6 1148.5,618.4 1149.0,618.3 1149.5,618.3 1150.0,618.5 1150.5,618.7 1151.0,618.9 1151.5,619.0 1152.0,619.2 1152.5,619.2 1153.0,619.2 1153.5,619.2 1154.0,619.2 1154.5,619.2 1155.0,619.2 1155.5,619.2 1156.0,619.2 1156.5,619.2 1157.0,619.2 1157.5,619.2 1158.0,619.2 1158.5,619.2 1159.0,619.2 1159.5,619.2 1160.0,619.2 1160.5,619.2 1161.0,619.2 1161.5,619.2 1162.0,619.2 1162.5,619.2 1163.0,619.2 1163.5,619.2 1164.0,619.2 1164.5,619.2 1165.0,619.2 1165.5,619.2 1166.0,619.2 1166.5,619.2 1167.0,619.2 1167.5,619.2 1168.0,619.2 1168.5,619.2 1169.0,619.2 1169.5,619.2 1170.0,619.2 1170.5,619.2 1171.0,619.2 1171.5,619.2 1172.0,619.2 1172.5,619.2 1173.0,619.2 1173.5,619.2 1174.0,619.2 1174.5,619.1 1175.0,619.1 1175.5,619.1 1176.0,619.1 1176.5,619.1 1177.0,619.1 1177.5,619.1 1178.0,619.1 1178.5,619.0 1179.0,618.9 1179.5,618.8 1180.0,618.6 1180.5,618.4 1181.0,618.3 1181.5,618.3 1182.0,618.4 1182.5,618.5 1183.0,618.7 1183.5,618.8 1184.0,618.9 1184.5,618.9 1185.0,618.8 1185.5,618.7 1186.0,618.6 1186.5,618.4 1187.0,618.2 1187.5,618.1 1188.0,618.0 1188.5,618.0 1189.0,618.0 1189.5,618.1 1190.0,618.2 1190.5,618.4 1191.0,618.5 1191.5,618.7 1192.0,618.8 1192.5,618.8 1193.0,618.9 1193.5,618.9 1194.0,618.9 1194.5,618.9 1195.0,618.9 1195.5,618.9 1196.0,618.9 1196.5,618.9 1197.0,618.9 1197.5,618.8 1198.0,618.8 1198.5,618.8 1199.0,618.8 1199.5,618.8 1200.0,618.8 1200.5,618.8 1201.0,618.8 1201.5,618.7 1202.0,618.7 1202.5,618.7 1203.0,618.7 1203.5,618.7 1204.0,618.7 1204.5,618.6 1205.0,618.6 1205.5,618.6 1206.0,618.6 1206.5,618.6 1207.0,618.5 1207.5,618.5 1208.0,618.5 1208.5,618.5 1209.0,618.5 1209.5,618.4 1210.0,618.4 1210.5,618.4 1211.0,618.3 1211.5,618.3 1212.0,618.3 1212.5,618.2 1213.0,618.2 1213.5,618.2 1214.0,618.1 1214.5,618.1 1215.0,618.1 1215.5,618.0 1216.0,618.0 1216.5,617.9 1217.0,617.9 1217.5,617.8 1218.0,617.8 1218.5,617.7 1219.0,617.6 1219.5,617.6 1220.0,617.5 1220.5,617.4 1221.0,617.4 1221.5,617.3 1222.0,617.2 1222.5,617.1 1223.0,617.0 1223.5,616.9 1224.0,616.8 1224.5,616.7 1225.0,616.5 1225.5,616.4 1226.0,616.3 1226.5,616.1 1227.0,616.0 1227.5,615.8 1228.0,615.6 1228.5,615.4 1229.0,615.2 1229.5,614.9 1230.0,614.7 1230.5,614.4 1231.0,614.1 1231.5,613.8 1232.0,613.4 1232.5,613.0 1233.0,612.6 1233.5,612.1 1234.0,611.5 1234.5,610.9 1235.0,610.3 1235.5,609.5 1236.0,608.7 1236.5,607.8 1237.0,606.7 1237.5,605.5 1238.0,604.1 1238.5,602.5 1239.0,600.7 1239.5,598.5 1240.0,595.9 1240.5,592.9 1241.0,589.3 1241.5,584.9 1242.0,579.5 1242.5,572.9 1243.0,564.6 1243.5,554.3 1244.0,541.0 1244.5,523.8 1245.0,501.1 1245.5,470.8 1246.0,430.1 1246.5,375.9 1247.0,306.1 1247.5,224.9 1248.0,148.9 1248.5,108.8 1248.6,107.5 1249.0,126.7 1249.5,192.1 1250.0,274.1 1250.5,349.5 1251.0,410.0 1251.5,456.0 1252.0,490.3 1252.5,515.9 1253.0,535.2 1253.5,549.9 1254.0,561.3 1254.5,570.2 1255.0,577.3 1255.5,583.1 1256.0,587.8 1256.5,591.6 1257.0,594.8 1257.5,597.5 1258.0,599.8 1258.5,601.8 1259.0,603.5 1259.5,605.0 1260.0,606.2 1260.5,607.4 1261.0,608.3 1261.5,609.2 1262.0,610.0 1262.5,610.7 1263.0,611.3 1263.5,611.9 1264.0,612.4 1264.5,612.8 1265.0,613.2 1265.5,613.6 1266.0,614.0 1266.5,614.3 1267.0,614.6 1267.5,614.8 1268.0,615.1 1268.5,615.3 1269.0,615.5 1269.5,615.7 1270.0,615.9 1270.5,616.1 1271.0,616.2 1271.5,616.4 1272.0,616.5 1272.5,616.6 1273.0,616.7 1273.5,616.9 1274.0,617.0 1274.5,617.1 1275.0,617.2 1275.5,617.2 1276.0,617.3 1276.5,617.4 1277.0,617.5 1277.5,617.5 1278.0,617.6 1278.5,617.7 1279.0,617.7 1279.5,617.8 1280.0,617.8 1280.5,617.9 1281.0,617.9 1281.5,618.0 1282.0,618.0 1282.5,618.1 1283.0,618.1 1283.5,618.2 1284.0,618.2 1284.5,618.2 1285.0,618.3 1285.5,618.3 1286.0,618.3 1286.5,618.4 1287.0,618.4 1287.5,618.4 1288.0,618.4 1288.5,618.5 1289.0,618.5 1289.5,618.5 1290.0,618.5 1290.5,618.6 1291.0,618.6 1291.5,618.6 1292.0,618.6 1292.5,618.6 1293.0,618.7 1293.5,618.7 1294.0,618.7 1294.5,618.7 1295.0,618.7 1295.5,618.7 1296.0,618.8 1296.5,618.8 1297.0,618.8 1297.5,618.8 1298.0,618.8 1298.5,618.8 1299.0,618.8 1299.5,618.8 1300.0,618.9 1300.5,618.9 1301.0,618.9 1301.5,618.9 1302.0,618.9 1302.5,618.9 1303.0,618.9 1303.5,618.9 1304.0,618.9 1304.5,618.9 1305.0,618.8 1305.5,618.6 1306.0,618.4 1306.5,618.1 1307.0,617.8 1307.5,617.4 1308.0,617.1 1308.5,616.9 1309.0,616.9 1309.5,617.1 1310.0,617.4 1310.5,617.7 1311.0,618.1 1311.5,618.4 1312.0,618.7 1312.5,618.9 1313.0,619.0 1313.5,619.0 1314.0,619.1 1314.5,619.1 1315.0,619.1 1315.5,619.1 1316.0,619.1 1316.5,619.1 1317.0,619.1 1317.5,619.1 1318.0,619.1 1318.5,619.1 1319.0,619.1 1319.5,619.1 1320.0,619.1 1320.5,619.1 1321.0,619.1 1321.5,619.1 1322.0,619.1 1322.5,619.1 1323.0,619.2 1323.5,619.2 1324.0,619.2 1324.5,619.2 1325.0,619.2 1325.5,619.2 1326.0,619.2 1326.5,619.2 1327.0,619.2 1327.5,619.2 1328.0,619.2 1328.5,619.2 1329.0,619.2 1329.5,619.2 1330.0,619.2 1330.5,619.2 1331.0,619.2 1331.5,619.2 1332.0,619.2 1332.5,619.2 1333.0,619.2 1333.5,619.2 1334.0,619.2 1334.5,619.2 1335.0,619.2 1335.5,619.2 1336.0,619.2 1336.5,619.2 1337.0,619.2 1337.5,619.2 1338.0,619.2 1338.5,619.2 1339.0,619.2 1339.5,619.2 1340.0,619.2 1340.5,619.2 1341.0,619.2 1341.5,619.2 1342.0,619.2 1342.5,619.2 1343.0,619.2 1343.5,619.3 1344.0,619.3 1344.5,619.2 1345.0,619.2 1345.5,619.2 1346.0,619.2 1346.5,619.1 1347.0,619.0 1347.5,618.8 1348.0,618.7 1348.5,618.5 1349.0,618.3 1349.5,618.2 1350.0,618.3 1350.5,618.4 1351.0,618.6 1351.5,618.8 1352.0,618.9 1352.5,619.1 1353.0,619.2 1353.5,619.2 1354.0,619.3 1354.5,619.3 1355.0,619.3 1355.5,619.3 1356.0,619.3 1356.5,619.3 1357.0,619.3 1357.5,619.3 1358.0,619.3 1358.5,619.3 1359.0,619.3 1359.5,619.3 1360.0,619.3 1360.5,619.3 1361.0,619.3 1361.5,619.3 1362.0,619.3 1362.5,619.3 1363.0,619.3 1363.5,619.3 1364.0,619.3 1364.5,619.3 1365.0,619.3 1365.5,619.3 1366.0,619.3 1366.5,619.3 1367.0,619.3 1367.5,619.3 1368.0,619.3 1368.5,619.3 1369.0,619.3 1369.5,619.2 1370.0,619.2 1370.5,619.1 1371.0,618.9 1371.5,618.7 1372.0,618.5 1372.5,618.3 1373.0,618.2 1373.5,618.1 1374.0,618.0 1374.5,618.1 1375.0,618.1 1375.5,618.1 1376.0,618.2 1376.5,618.1 1377.0,618.1 1377.5,618.0 1378.0,618.0 1378.5,618.1 1379.0,618.2 1379.5,618.3 1380.0,618.5 1380.5,618.7 1381.0,618.9 1381.5,619.0 1382.0,619.2 1382.5,619.2 1383.0,619.3 1383.5,619.3 1384.0,619.3 1384.5,619.3 1385.0,619.3 1385.5,619.3 1386.0,619.3 1386.5,619.3 1387.0,619.3 1387.5,619.3 1388.0,619.3 1388.5,619.3 1389.0,619.3 1389.5,619.3 1390.0,619.3 1390.5,619.3 1391.0,619.3 1391.5,619.3 1392.0,619.3 1392.5,619.3 1393.0,619.3 1393.5,619.3 1394.0,619.3 1394.5,619.3 1395.0,619.3 1395.5,619.3 1396.0,619.3 1396.5,619.3 1397.0,619.3 1397.5,619.3 1398.0,619.3 1398.5,619.3 1399.0,619.3 1399.5,619.3 1400.0,619.3 1400.5,619.3 1401.0,619.3 1401.5,619.3 1402.0,619.3 1402.5,619.3 1403.0,619.3 1403.5,619.3 1404.0,619.3 1404.5,619.3 1405.0,619.3 1405.5,619.3 1406.0,619.3 1406.5,619.3 1407.0,619.3 1407.5,619.3 1408.0,619.3 1408.5,619.3 1409.0,619.3 1409.5,619.3 1410.0,619.3 1410.5,619.3 1411.0,619.4 1411.5,619.4 1412.0,619.4 1412.5,619.4 1413.0,619.4 1413.5,619.3 1414.0,619.3 1414.5,619.3 1415.0,619.3 1415.5,619.3 1416.0,619.2 1416.5,619.2 1417.0,619.1 1417.5,618.9 1418.0,618.8 1418.5,618.6 1419.0,618.5 1419.5,618.4 1420.0,618.4 1420.5,618.5 1421.0,618.6 1421.5,618.7 1422.0,618.9 1422.5,619.0 1423.0,619.1 1423.5,619.2 1424.0,619.3 1424.5,619.3 1425.0,619.3 1425.5,619.3 1426.0,619.4 1426.5,619.4 1427.0,619.4 1427.5,619.4 1428.0,619.4 1428.5,619.4 1429.0,619.4 1429.5,619.4 1430.0,619.4 1430.5,619.4 1431.0,619.4 1431.5,619.4 1432.0,619.4 1432.5,619.4 1433.0,619.4 1433.5,619.4 1434.0,619.4 1434.5,619.4 1435.0,619.4 1435.5,619.4 1436.0,619.4 1436.5,619.4 1437.0,619.4 1437.5,619.4 1438.0,619.4 1438.5,619.4 1439.0,619.4 1439.5,619.4 1440.0,619.4 1440.5,619.4 1441.0,619.4 1441.5,619.3 1442.0,619.3 1442.5,619.2 1443.0,618.9 1443.5,618.5 1444.0,618.2 1444.5,618.1 1445.0,618.3 1445.5,618.7 1446.0,619.1 1446.5,619.2 1447.0,619.3 1447.5,619.4 1448.0,619.4 1448.5,619.4 1449.0,619.4 1449.5,619.4 1450.0,619.4 1450.5,619.4 1451.0,619.4 1451.5,619.4 1452.0,619.4 1452.5,619.4 1453.0,619.4 1453.5,619.4 1454.0,619.4 1454.5,619.4 1455.0,619.4 1455.5,619.4 1456.0,619.4 1456.5,619.4 1457.0,619.4 1457.5,619.4 1458.0,619.4 1458.5,619.4 1459.0,619.4 1459.5,619.4 1460.0,619.4 1460.5,619.4 1461.0,619.4 1461.5,619.4 1462.0,619.4 1462.5,619.4 1463.0,619.4 1463.5,619.4 1464.0,619.4 1464.5,619.4 1465.0,619.4 1465.5,619.4 1466.0,619.4 1466.5,619.4 1467.0,619.4 1467.5,619.4 1468.0,619.4 1468.5,619.4 1469.0,619.4 1469.5,619.4 1470.0,619.4 1470.5,619.4 1471.0,619.4 1471.5,619.4 1472.0,619.4 1472.5,619.4 1473.0,619.4 1473.5,619.4 1474.0,619.4 1474.5,619.4 1475.0,619.4 1475.5,619.4 1476.0,619.4 1476.5,619.3 1477.0,619.3 1477.5,619.2 1478.0,619.0 1478.5,618.8 1479.0,618.6 1479.5,618.5 1480.0,618.5 1480.5,618.6 1481.0,618.8 1481.5,619.0 1482.0,619.2 1482.5,619.2 1483.0,619.2 1483.5,619.0 1484.0,618.9 1484.5,618.7 1485.0,618.4 1485.5,618.3 1486.0,618.3 1486.5,618.3 1487.0,618.5 1487.5,618.7 1488.0,618.9 1488.5,619.1 1489.0,619.2 1489.5,619.3 1490.0,619.2 1490.5,619.2 1491.0,619.0 1491.5,618.8 1492.0,618.6 1492.5,618.4 1493.0,618.3 1493.5,618.2 1494.0,618.3 1494.5,618.5 1495.0,618.7 1495.5,618.9 1496.0,619.1 1496.5,619.2 1497.0,619.3 1497.5,619.3 1498.0,619.4 1498.5,619.4 1499.0,619.4 1499.5,619.3 1500.0,619.3 1500.5,619.1 1501.0,618.9 1501.5,618.7 1502.0,618.4 1502.5,618.3 1503.0,618.4 1503.5,618.6 1504.0,618.9 1504.5,619.1 1505.0,619.2 1505.5,619.3 1506.0,619.4 1506.5,619.4 1507.0,619.4 1507.5,619.4 1508.0,619.4 1508.5,619.4 1509.0,619.4 1509.5,619.4 1510.0,619.4 1510.5,619.4 1511.0,619.4 1511.5,619.4 1512.0,619.4 1512.5,619.4 1513.0,619.4 1513.5,619.4 1514.0,619.4 1514.5,619.4 1515.0,619.4 1515.5,619.4 1516.0,619.4 1516.5,619.4 1517.0,619.4 1517.5,619.4 1518.0,619.4 1518.5,619.4 1519.0,619.4 1519.5,619.4 1520.0,619.4 1520.5,619.4 1521.0,619.4 1521.5,619.4 1522.0,619.4 1522.5,619.4 1523.0,619.4 1523.5,619.4 1524.0,619.4 1524.5,619.4 1525.0,619.4 1525.5,619.4 1526.0,619.4 1526.5,619.4 1527.0,619.4 1527.5,619.4 1528.0,619.4 1528.5,619.4 1529.0,619.4 1529.5,619.4 1530.0,619.4 1530.5,619.4 1531.0,619.4 1531.5,619.4 1532.0,619.4 1532.5,619.4 1533.0,619.4 1533.5,619.4 1534.0,619.4 1534.5,619.4 1535.0,619.4 1535.5,619.4 1536.0,619.4 1536.5,619.4 1537.0,619.4 1537.5,619.4 1538.0,619.4 1538.5,619.4 1539.0,619.4 1539.5,619.4 1540.0,619.4 1540.5,619.4 1541.0,619.4 1541.5,619.4 1542.0,619.4 1542.5,619.4 1543.0,619.4 1543.5,619.4 1544.0,619.4 1544.5,619.4 1545.0,619.4 1545.5,619.4 1546.0,619.4 1546.5,619.4 1547.0,619.4 1547.5,619.4 1548.0,619.4 1548.5,619.4 1549.0,619.4 1549.5,619.4 1550.0,619.4 1550.5,619.4 1551.0,619.4 1551.5,619.4 1552.0,619.4 1552.5,619.4 1553.0,619.4 1553.5,619.4 1554.0,619.4 1554.5,619.4 1555.0,619.4 1555.5,619.4 1556.0,619.4 1556.5,619.4 1557.0,619.4 1557.5,619.4 1558.0,619.4 1558.5,619.4 1559.0,619.4 1559.5,619.4 1560.0,619.4 1560.5,619.4 1561.0,619.4 1561.5,619.4 1562.0,619.4 1562.5,619.4 1563.0,619.4 1563.5,619.4 1564.0,619.4 1564.5,619.4 1565.0,619.4 1565.5,619.4 1566.0,619.4 1566.5,619.4 1567.0,619.4 1567.5,619.4 1568.0,619.4 1568.5,619.4 1569.0,619.4 1569.5,619.4 1570.0,619.4 1570.5,619.4 1571.0,619.4 1571.5,619.4 1572.0,619.4 1572.5,619.4 1573.0,619.4 1573.5,619.4 1574.0,619.4 1574.5,619.4 1575.0,619.4 1575.5,619.4 1576.0,619.4 1576.5,619.4 1577.0,619.4 1577.5,619.4 1578.0,619.4 1578.5,619.4 1579.0,619.4 1579.5,619.4 1580.0,619.4 1580.5,619.4 1581.0,619.4 1581.5,619.4 1582.0,619.4 1582.5,619.4 1583.0,619.4 1583.5,619.4 1584.0,619.4 1584.5,619.4 1585.0,619.4 1585.5,619.4 1586.0,619.4 1586.5,619.4 1587.0,619.4 1587.5,619.4 1588.0,619.4 1588.5,619.4 1589.0,619.4 1589.5,619.4 1590.0,619.4 1590.5,619.4 1591.0,619.4 1591.5,619.4 1592.0,619.4 1592.5,619.4 1593.0,619.4 1593.5,619.4 1594.0,619.4 1594.5,619.4 1595.0,619.4 1595.5,619.4 1596.0,619.4 1596.5,619.4 1597.0,619.4 1597.5,619.4 1598.0,619.4 1598.5,619.4 1599.0,619.4 1599.5,619.4 1600.0,619.4 1600.5,619.4 1601.0,619.4 1601.5,619.4 1602.0,619.4 1602.5,619.4 1603.0,619.4 1603.5,619.4 1604.0,619.4 1604.5,619.4 1605.0,619.4 1605.5,619.4 1606.0,619.4 1606.5,619.4 1607.0,619.4 1607.5,619.4 1608.0,619.4 1608.5,619.4 1609.0,619.4 1609.5,619.4 1610.0,619.4 1610.5,619.4 1611.0,619.4 1611.5,619.4 1612.0,619.4 1612.5,619.4 1613.0,619.4 1613.5,619.4 1614.0,619.4 1614.5,619.4 1615.0,619.4 1615.5,619.4 1616.0,619.4 1616.5,619.4 1617.0,619.4 1617.5,619.4 1618.0,619.4 1618.5,619.4 1619.0,619.4 1619.5,619.4 1620.0,619.4 1620.5,619.4 1621.0,619.4 1621.5,619.4 1622.0,619.4 1622.5,619.4 1623.0,619.4 1623.5,619.4 1624.0,619.3 1624.5,619.3 1625.0,619.2 1625.5,619.1 1626.0,618.9 1626.5,618.7 1627.0,618.6 1627.5,618.6 1628.0,618.8 1628.5,619.0 1629.0,619.2 1629.5,619.3 1630.0,619.3 1630.5,619.3 1631.0,619.3 1631.5,619.3 1632.0,619.3 1632.5,619.3 1633.0,619.3 1633.5,619.3 1634.0,619.3 1634.5,619.3 1635.0,619.3 1635.5,619.3 1636.0,619.3 1636.5,619.3 1637.0,619.3 1637.5,619.3 1638.0,619.3 1638.5,619.3 1639.0,619.3 1639.5,619.3 1640.0,619.3 1640.5,619.3 1641.0,619.3 1641.5,619.3 1642.0,619.3 1642.5,619.3 1643.0,619.3 1643.5,619.3 1644.0,619.3 1644.5,619.3 1645.0,619.3 1645.5,619.3 1646.0,619.3 1646.5,619.3 1647.0,619.3 1647.5,619.3 1648.0,619.3 1648.5,619.3 1649.0,619.3 1649.5,619.3 1650.0,619.3 1650.5,619.3 1651.0,619.3 1651.5,619.3 1652.0,619.3 1652.5,619.3 1653.0,619.3 1653.5,619.3 1654.0,619.3 1654.5,619.3 1655.0,619.3 1655.5,619.3 1656.0,619.3 1656.5,619.3 1657.0,619.3 1657.5,619.3 1658.0,619.3 1658.5,619.3 1659.0,619.3 1659.5,619.3 1660.0,619.3 1660.5,619.3 1661.0,619.3 1661.5,619.3 1662.0,619.3 1662.5,619.3 1663.0,619.3 1663.5,619.3 1664.0,619.3 1664.5,619.3 1665.0,619.3 1665.5,619.3 1666.0,619.3 1666.5,619.3 1667.0,619.3 1667.5,619.3 1668.0,619.3 1668.5,619.3 1669.0,619.3 1669.5,619.3 1670.0,619.2 1670.5,619.2 1671.0,619.2 1671.5,619.2 1672.0,619.2 1672.5,619.2 1673.0,619.2 1673.5,619.2 1674.0,619.2 1674.5,619.2 1675.0,619.2 1675.5,619.2 1676.0,619.2 1676.5,619.2 1677.0,619.2 1677.5,619.2 1678.0,619.2 1678.5,619.2 1679.0,619.2 1679.5,619.2 1680.0,619.2 1680.5,619.2 1681.0,619.2 1681.5,619.2 1682.0,619.1 1682.5,619.1 1683.0,619.1 1683.5,619.1 1684.0,619.1 1684.5,619.1 1685.0,619.1 1685.5,619.1 1686.0,619.1 1686.5,619.1 1687.0,619.1 1687.5,619.1 1688.0,619.1 1688.5,619.0 1689.0,619.0 1689.5,619.0 1690.0,619.0 1690.5,619.0 1691.0,619.0 1691.5,619.0 1692.0,619.0 1692.5,618.9 1693.0,618.9 1693.5,618.9 1694.0,618.9 1694.5,618.9 1695.0,618.9 1695.5,618.8 1696.0,618.8 1696.5,618.8 1697.0,618.8 1697.5,618.8 1698.0,618.7 1698.5,618.7 1699.0,618.7 1699.5,618.7 1700.0,618.6 1700.5,618.6 1701.0,618.6 1701.5,618.5 1702.0,618.5 1702.5,618.4 1703.0,618.3 1703.5,618.2 1704.0,618.1 1704.5,617.9 1705.0,617.7 1705.5,617.5 1706.0,617.3 1706.5,617.1 1707.0,616.9 1707.5,616.8 1708.0,616.8 1708.5,616.8 1709.0,616.8 1709.5,616.9 1710.0,616.9 1710.5,616.8 1711.0,616.7 1711.5,616.6 1712.0,616.4 1712.5,616.1 1713.0,615.9 1713.5,615.5 1714.0,615.2 1714.5,614.7 1715.0,614.2 1715.5,613.6 1716.0,612.9 1716.5,612.1 1717.0,611.1 1717.5,609.9 1718.0,608.5 1718.5,606.6 1719.0,604.3 1719.5,601.4 1720.0,597.5 1720.5,592.4 1721.0,585.4 1721.5,575.8 1722.0,561.9 1722.5,541.7 1723.0,511.7 1723.5,467.1 1724.0,404.3 1724.5,330.0 1725.0,275.8 1725.2,270.1 1725.5,282.7 1726.0,344.4 1726.5,417.9 1727.0,476.9 1727.5,518.0 1728.0,545.6 1728.5,564.1 1729.0,576.7 1729.5,585.6 1730.0,591.9 1730.5,596.6 1731.0,600.0 1731.5,602.6 1732.0,604.5 1732.5,606.0 1733.0,607.2 1733.5,608.0 1734.0,608.6 1734.5,609.1 1735.0,609.4 1735.5,609.5 1736.0,609.6 1736.5,609.5 1737.0,609.3 1737.5,609.0 1738.0,608.7 1738.5,608.2 1739.0,607.5 1739.5,606.8 1740.0,605.9 1740.5,604.9 1741.0,603.7 1741.5,602.3 1742.0,600.7 1742.5,598.8 1743.0,596.6 1743.5,594.0 1744.0,591.0 1744.5,587.5 1745.0,583.4 1745.5,578.6 1746.0,572.9 1746.5,566.2 1747.0,558.3 1747.5,548.9 1748.0,537.8 1748.5,524.6 1749.0,509.1 1749.5,491.0 1750.0,470.1 1750.5,446.5 1751.0,420.4 1751.5,392.7 1752.0,364.9 1752.5,339.1 1753.0,317.8 1753.5,303.7 1754.0,298.7 1754.5,303.7 1755.0,317.8 1755.5,339.1 1756.0,364.9 1756.5,392.7 1757.0,420.4 1757.5,446.5 1758.0,470.2 1758.5,491.1 1759.0,509.2 1759.5,524.7 1760.0,537.8 1760.5,549.0 1761.0,558.4 1761.5,566.3 1762.0,572.9 1762.5,578.4 1763.0,582.9 1763.5,586.8 1764.0,590.2 1764.5,593.2 1765.0,596.0 1765.5,598.5 1766.0,600.8 1766.5,602.7 1767.0,604.3 1767.5,605.7 1768.0,606.9 1768.5,607.9 1769.0,608.8 1769.5,609.5 1770.0,610.2 1770.5,610.8 1771.0,611.3 1771.5,611.6 1772.0,611.9 1772.5,612.2 1773.0,612.4 1773.5,612.6 1774.0,612.7 1774.5,613.0 1775.0,613.3 1775.5,613.6 1776.0,613.9 1776.5,614.3 1777.0,614.6 1777.5,615.0 1778.0,615.2 1778.5,615.5 1779.0,615.6 1779.5,615.8 1780.0,615.9 1780.5,616.0 1781.0,616.1 1781.5,616.2 1782.0,616.3 1782.5,616.4 1783.0,616.4 1783.5,616.5 1784.0,616.5 1784.5,616.6 1785.0,616.7 1785.5,616.7 1786.0,616.7 1786.5,616.8 1787.0,616.8 1787.5,616.9 1788.0,616.9 1788.5,616.9 1789.0,616.9 1789.5,616.8 1790.0,616.8 1790.5,616.7 1791.0,616.6 1791.5,616.5 1792.0,616.5 1792.5,616.5 1793.0,616.5 1793.5,616.6 1794.0,616.8 1794.5,616.9 1795.0,617.1 1795.5,617.2 1796.0,617.3 1796.5,617.4 1797.0,617.4 1797.5,617.5 1798.0,617.5 1798.5,617.5 1799.0,617.6 1799.5,617.6 1800.0,617.6 1800.5,617.7 1801.0,617.7 1801.5,617.7 1802.0,617.7 1802.5,617.8 1803.0,617.8 1803.5,617.8 1804.0,617.9 1804.5,617.9 1805.0,617.9 1805.5,617.9 1806.0,618.0 1806.5,618.0 1807.0,618.0 1807.5,618.1 1808.0,618.1 1808.5,618.1 1809.0,618.1 1809.5,618.2 1810.0,618.2 1810.5,618.2 1811.0,618.2 1811.5,618.3 1812.0,618.3 1812.5,618.3 1813.0,618.3 1813.5,618.4 1814.0,618.4 1814.5,618.4 1815.0,618.5 1815.5,618.5 1816.0,618.5 1816.5,618.5 1817.0,618.6 1817.5,618.6 1818.0,618.6 1818.5,618.6 1819.0,618.6 1819.5,618.7 1820.0,618.7 1820.5,618.7 1821.0,618.7 1821.5,618.7 1822.0,618.8 1822.5,618.8 1823.0,618.8 1823.5,618.8 1824.0,618.8 1824.5,618.8 1825.0,618.7 1825.5,618.5 1826.0,618.2 1826.5,618.0 1827.0,617.9 1827.5,618.0 1828.0,618.3 1828.5,618.6 1829.0,618.8 1829.5,619.0 1830.0,619.0 1830.5,619.0 1831.0,619.1 1831.5,619.1 1832.0,619.1 1832.5,619.1 1833.0,619.1 1833.5,619.1 1834.0,619.1 1834.5,619.1 1835.0,619.0 1835.5,618.9 1836.0,618.8 1836.5,618.6 1837.0,618.3 1837.5,618.1 1838.0,617.9 1838.5,617.8 1839.0,617.7 1839.5,617.7 1840.0,617.8 1840.5,618.0 1841.0,618.2 1841.5,618.5 1842.0,618.8 1842.5,619.0 1843.0,619.1 1843.5,619.2 1844.0,619.2 1844.5,619.3 1845.0,619.3 1845.5,619.3 1846.0,619.3 1846.5,619.3 1847.0,619.3 1847.5,619.3 1848.0,619.3 1848.5,619.3 1849.0,619.3 1849.5,619.3 1850.0,619.3 1850.5,619.3 1851.0,619.3 1851.5,619.3 1852.0,619.3 1852.5,619.3 1853.0,619.3 1853.5,619.3 1854.0,619.3 1854.5,619.3 1855.0,619.3 1855.5,619.3 1856.0,619.3 1856.5,619.2 1857.0,619.1 1857.5,619.0 1858.0,618.8 1858.5,618.6 1859.0,618.4 1859.5,618.3 1860.0,618.3 1860.5,618.4 1861.0,618.5 1861.5,618.6 1862.0,618.6 1862.5,618.5 1863.0,618.3 1863.5,618.3 1864.0,618.4 1864.5,618.7 1865.0,618.9 1865.5,619.1 1866.0,619.2 1866.5,619.2 1867.0,619.1 1867.5,618.9 1868.0,618.6 1868.5,618.3 1869.0,618.1 1869.5,618.1 1870.0,618.1 1870.5,618.3 1871.0,618.5 1871.5,618.8 1872.0,619.0 1872.5,619.2 1873.0,619.3 1873.5,619.3 1874.0,619.3 1874.5,619.3 1875.0,619.3 1875.5,619.4 1876.0,619.4 1876.5,619.4 1877.0,619.4 1877.5,619.4 1878.0,619.4 1878.5,619.4 1879.0,619.4 1879.5,619.4 1880.0,619.4 1880.5,619.4 1881.0,619.4 1881.5,619.4 1882.0,619.4 1882.5,619.4 1883.0,619.4 1883.5,619.3 1884.0,619.3 1884.5,619.3 1885.0,619.1 1885.5,618.9 1886.0,618.6 1886.5,618.5 1887.0,618.6 1887.5,618.9 1888.0,619.1 1888.5,619.3 1889.0,619.3 1889.5,619.3 1890.0,619.4 1890.5,619.4 1891.0,619.4 1891.5,619.4 1892.0,619.4 1892.5,619.4 1893.0,619.4 1893.5,619.4 1894.0,619.4 1894.5,619.4 1895.0,619.3 1895.5,619.3 1896.0,619.3 1896.5,619.3 1897.0,619.3 1897.5,619.3 1898.0,619.3 1898.5,619.3 1899.0,619.3 1899.5,619.3 1900.0,619.3 1900.5,619.3 1901.0,619.3 1901.5,619.3 1902.0,619.3 1902.5,619.3 1903.0,619.3 1903.5,619.3 1904.0,619.3 1904.5,619.3 1905.0,619.3 1905.5,619.2 1906.0,619.1 1906.5,618.9 1907.0,618.6 1907.5,618.2 1908.0,617.8 1908.5,617.5 1909.0,617.3 1909.5,617.5 1910.0,617.8 1910.5,618.2 1911.0,618.6 1911.5,618.9 1912.0,619.1 1912.5,619.2 1913.0,619.3 1913.5,619.3 1914.0,619.3 1914.5,619.3 1915.0,619.3 1915.5,619.3 1916.0,619.3 1916.5,619.3 1917.0,619.3 1917.5,619.3 1918.0,619.3 1918.5,619.3 1919.0,619.0 1919.5,618.1 1920.0,616.2 1920.5,613.1 1921.0,610.2 1921.5,609.4 1922.0,611.2 1922.5,614.4 1923.0,617.1 1923.5,618.6 1924.0,619.1 1924.5,619.3 1925.0,619.3 1925.5,619.3 1926.0,619.3 1926.5,619.3 1927.0,619.3 1927.5,619.3 1928.0,619.3 1928.5,619.3 1929.0,619.3 1929.5,619.3 1930.0,619.3 1930.5,619.3 1931.0,619.3 1931.5,619.3 1932.0,619.3 1932.5,619.3 1933.0,619.3 1933.5,619.3 1934.0,619.3 1934.5,619.2 1935.0,619.2 1935.5,619.2 1936.0,619.2 1936.5,619.2 1937.0,619.2 1937.5,619.2 1938.0,619.2 1938.5,619.2 1939.0,619.2 1939.5,619.2 1940.0,619.2 1940.5,619.2 1941.0,619.2 1941.5,619.2 1942.0,619.2 1942.5,619.2 1943.0,619.1 1943.5,619.1 1944.0,619.1 1944.5,619.1 1945.0,619.1 1945.5,619.1 1946.0,619.1 1946.5,619.1 1947.0,619.1 1947.5,619.0 1948.0,619.0 1948.5,619.0 1949.0,619.0 1949.5,619.0 1950.0,619.0 1950.5,618.9 1951.0,618.9 1951.5,618.9 1952.0,618.9 1952.5,618.8 1953.0,618.8 1953.5,618.8 1954.0,618.7 1954.5,618.7 1955.0,618.6 1955.5,618.6 1956.0,618.5 1956.5,618.5 1957.0,618.4 1957.5,618.4 1958.0,618.3 1958.5,618.2 1959.0,618.1 1959.5,618.0 1960.0,617.9 1960.5,617.8 1961.0,617.6 1961.5,617.5 1962.0,617.3 1962.5,617.1 1963.0,616.8 1963.5,616.5 1964.0,616.2 1964.5,615.8 1965.0,615.4 1965.5,614.9 1966.0,614.2 1966.5,613.5 1967.0,612.6 1967.5,611.4 1968.0,610.0 1968.5,608.3 1969.0,606.0 1969.5,603.0 1970.0,599.1 1970.5,593.9 1971.0,586.8 1971.5,576.9 1972.0,563.1 1972.5,543.9 1973.0,518.5 1973.5,488.4 1974.0,461.1 1974.5,449.6 1975.0,461.1 1975.5,488.4 1976.0,518.5 1976.5,543.9 1977.0,563.1 1977.5,576.9 1978.0,586.8 1978.5,593.9 1979.0,599.0 1979.5,602.6 1980.0,605.1 1980.5,606.9 1981.0,608.2 1981.5,609.5 1982.0,610.8 1982.5,612.2 1983.0,613.4 1983.5,614.4 1984.0,615.2 1984.5,615.8 1985.0,616.2 1985.5,616.5 1986.0,616.8 1986.5,617.1 1987.0,617.3 1987.5,617.5 1988.0,617.6 1988.5,617.8 1989.0,617.9 1989.5,618.0 1990.0,618.1 1990.5,618.2 1991.0,618.3 1991.5,618.4 1992.0,618.4 1992.5,618.5 1993.0,618.5 1993.5,618.6 1994.0,618.6 1994.5,618.7 1995.0,618.7 1995.5,618.8 1996.0,618.8 1996.5,618.8 1997.0,618.8 1997.5,618.8 1998.0,618.8 1998.5,618.7 1999.0,618.6 1999.5,618.4 2000.0,618.1 2000.5,618.0 2001.0,618.0 2001.5,618.1 2002.0,618.3 2002.5,618.6 2003.0,618.8 2003.5,618.9 2004.0,619.0 2004.5,619.1 2005.0,619.1 2005.5,619.1 2006.0,619.1 2006.5,619.1 2007.0,619.2 2007.5,619.2 2008.0,619.2 2008.5,619.2 2009.0,619.2 2009.5,619.2 2010.0,619.2 2010.5,619.2 2011.0,619.2 2011.5,619.2 2012.0,619.2 2012.5,619.2 2013.0,619.2 2013.5,619.2 2014.0,619.2 2014.5,619.2 2015.0,619.2 2015.5,619.2 2016.0,619.2 2016.5,619.3 2017.0,619.3 2017.5,619.3 2018.0,619.3 2018.5,619.3 2019.0,619.3 2019.5,619.3 2020.0,619.3 2020.5,619.3 2021.0,619.3 2021.5,619.3 2022.0,619.3 2022.5,619.3 2023.0,619.3 2023.5,619.3 2024.0,619.3 2024.5,619.3 2025.0,619.3 2025.5,619.3 2026.0,619.3 2026.5,619.3 2027.0,619.3 2027.5,619.3 2028.0,619.3 2028.5,619.3 2029.0,619.3 2029.5,619.3 2030.0,619.3 2030.5,619.3 2031.0,619.3 2031.5,619.3 2032.0,619.3 2032.5,619.3 2033.0,619.3 2033.5,619.3 2034.0,619.3 2034.5,619.3 2035.0,619.3 2035.5,619.3 2036.0,619.3 2036.5,619.3 2037.0,619.3 2037.5,619.3 2038.0,619.3 2038.5,619.3 2039.0,619.3 2039.5,619.3 2040.0,619.3 2040.5,619.3 2041.0,619.3 2041.5,619.3 2042.0,619.3 2042.5,619.3 2043.0,619.3 2043.5,619.3 2044.0,619.3 2044.5,619.3 2045.0,619.3 2045.5,619.3 2046.0,619.3 2046.5,619.3 2047.0,619.3 2047.5,619.3 2048.0,619.3 2048.5,619.3 2049.0,619.3 2049.5,619.3 2050.0,619.3 2050.5,619.3 2051.0,619.3 2051.5,619.3 2052.0,619.3 2052.5,619.3 2053.0,619.3 2053.5,619.3 2054.0,619.3 2054.5,619.3 2055.0,619.3 2055.5,619.3 2056.0,619.3 2056.5,619.3 2057.0,619.3 2057.5,619.3 2058.0,619.3 2058.5,619.3 2059.0,619.3 2059.5,619.2 2060.0,619.2 2060.5,619.2 2061.0,619.2 2061.5,619.2 2062.0,619.1 2062.5,619.0 2063.0,619.0 2063.5,618.9 2064.0,618.8 2064.5,618.7 2065.0,618.5 2065.5,618.3 2066.0,618.1 2066.5,617.8 2067.0,617.5 2067.5,617.0 2068.0,616.6 2068.5,616.4 2069.0,616.3 2069.5,616.4 2070.0,616.6 2070.5,616.9 2071.0,617.1 2071.5,617.3 2072.0,617.5 2072.5,617.6 2073.0,617.8 2073.5,618.0 2074.0,618.1 2074.5,618.3 2075.0,618.4 2075.5,618.6 2076.0,618.7 2076.5,618.8 2077.0,618.9 2077.5,618.9 2078.0,618.9 2078.5,618.8 2079.0,618.7 2079.5,618.5 2080.0,618.3 2080.5,618.1 2081.0,618.0 2081.5,618.0 2082.0,618.2 2082.5,618.4 2083.0,618.6 2083.5,618.8 2084.0,618.9 2084.5,619.0 2085.0,619.0 2085.5,619.0 2086.0,619.0 2086.5,618.9 2087.0,618.8 2087.5,618.7 2088.0,618.6 2088.5,618.4 2089.0,618.3 2089.5,618.2 2090.0,618.2 2090.5,618.2 2091.0,618.3 2091.5,618.5 2092.0,618.6 2092.5,618.6 2093.0,618.7 2093.5,618.7 2094.0,618.6 2094.5,618.5 2095.0,618.4 2095.5,618.2 2096.0,618.1 2096.5,617.9 2097.0,617.7 2097.5,617.6 2098.0,617.5 2098.5,617.5 2099.0,617.6 2099.5,617.7 2100.0,617.8 2100.5,617.9 2101.0,617.9 2101.5,618.0 2102.0,617.9 2102.5,617.9 2103.0,617.8 2103.5,617.8 2104.0,617.7 2104.5,617.6 2105.0,617.5 2105.5,617.4 2106.0,617.3 2106.5,617.1 2107.0,617.0 2107.5,616.9 2108.0,616.7 2108.5,616.5 2109.0,616.4 2109.5,616.2 2110.0,616.0 2110.5,615.7 2111.0,615.5 2111.5,615.2 2112.0,614.9 2112.5,614.6 2113.0,614.2 2113.5,613.8 2114.0,613.3 2114.5,612.8 2115.0,612.3 2115.5,611.7 2116.0,611.0 2116.5,610.2 2117.0,609.4 2117.5,608.4 2118.0,607.3 2118.5,606.1 2119.0,604.7 2119.5,603.1 2120.0,601.3 2120.5,599.2 2121.0,596.9 2121.5,594.1 2122.0,590.9 2122.5,587.2 2123.0,582.8 2123.5,577.7 2124.0,571.7 2124.5,564.6 2125.0,556.3 2125.5,546.4 2126.0,534.7 2126.5,520.8 2127.0,504.5 2127.5,485.5 2128.0,463.6 2128.5,438.8 2129.0,411.4 2129.5,382.3 2130.0,353.1 2130.5,326.0 2131.0,303.7 2131.5,288.9 2132.0,283.7 2132.5,288.9 2133.0,303.7 2133.5,326.0 2134.0,353.1 2134.5,382.3 2135.0,411.4 2135.5,438.8 2136.0,463.6 2136.5,485.5 2137.0,504.5 2137.5,520.8 2138.0,534.7 2138.5,546.4 2139.0,556.3 2139.5,564.6 2140.0,571.7 2140.5,577.7 2141.0,582.8 2141.5,587.2 2142.0,590.9 2142.5,594.1 2143.0,596.9 2143.5,599.2 2144.0,601.3 2144.5,603.1 2145.0,604.7 2145.5,606.1 2146.0,607.3 2146.5,608.4 2147.0,609.4 2147.5,610.2 2148.0,611.0 2148.5,611.7 2149.0,612.3 2149.5,612.8 2150.0,613.3 2150.5,613.8 2151.0,614.2 2151.5,614.6 2152.0,614.9 2152.5,615.2 2153.0,615.5 2153.5,615.7 2154.0,616.0 2154.5,616.2 2155.0,616.4 2155.5,616.6 2156.0,616.7 2156.5,616.9 2157.0,617.0 2157.5,617.1 2158.0,617.3 2158.5,617.4 2159.0,617.5 2159.5,617.6 2160.0,617.7 2160.5,617.8 2161.0,617.8 2161.5,617.9 2162.0,618.0 2162.5,618.1 2163.0,618.1 2163.5,618.2 2164.0,618.2 2164.5,618.3 2165.0,618.3 2165.5,618.2 2166.0,618.1 2166.5,617.9 2167.0,617.7 2167.5,617.7 2168.0,617.8 2168.5,618.1 2169.0,618.3 2169.5,618.5 2170.0,618.6 2170.5,618.7 2171.0,618.7 2171.5,618.8 2172.0,618.8 2172.5,618.8 2173.0,618.8 2173.5,618.7 2174.0,618.4 2174.5,618.1 2175.0,617.8 2175.5,617.8 2176.0,617.8 2176.5,618.0 2177.0,618.1 2177.5,618.2 2178.0,618.4 2178.5,618.6 2179.0,618.8 2179.5,618.9 2180.0,619.0 2180.5,619.0 2181.0,619.1 2181.5,619.1 2182.0,619.1 2182.5,619.1 2183.0,619.1 2183.5,619.1 2184.0,619.1 2184.5,619.1 2185.0,619.1 2185.5,619.1 2186.0,619.1 2186.5,619.2 2187.0,619.2 2187.5,619.2 2188.0,619.2 2188.5,619.2 2189.0,619.2 2189.5,619.2 2190.0,619.2 2190.5,619.2 2191.0,619.2 2191.5,619.2 2192.0,619.2 2192.5,619.2 2193.0,619.2 2193.5,619.2 2194.0,619.2 2194.5,619.2 2195.0,619.2 2195.5,619.2 2196.0,619.2 2196.5,619.3 2197.0,619.3 2197.5,619.3 2198.0,619.3 2198.5,619.3 2199.0,619.3 2199.5,619.3 2200.0,619.3 2200.5,619.3 2201.0,619.3 2201.5,619.3 2202.0,619.3 2202.5,619.3 2203.0,619.3 2203.5,619.3 2204.0,619.3 2204.5,619.3 2205.0,619.3 2205.5,619.3 2206.0,619.3 2206.5,619.3 2207.0,619.3 2207.5,619.3 2208.0,619.3 2208.5,619.2 2209.0,619.1 2209.5,618.9 2210.0,618.7 2210.5,618.5 2211.0,618.3 2211.5,618.2 2212.0,618.3 2212.5,618.5 2213.0,618.7 2213.5,618.9 2214.0,619.1 2214.5,619.2 2215.0,619.3 2215.5,619.3 2216.0,619.3 2216.5,619.2 2217.0,619.2 2217.5,619.0 2218.0,618.9 2218.5,618.6 2219.0,618.4 2219.5,618.2 2220.0,618.2 2220.5,618.2 2221.0,618.3 2221.5,618.5 2222.0,618.7 2222.5,618.9 2223.0,619.1 2223.5,619.2 2224.0,619.3 2224.5,619.3 2225.0,619.3 2225.5,619.3 2226.0,619.3 2226.5,619.3 2227.0,619.4 2227.5,619.4 2228.0,619.4 2228.5,619.4 2229.0,619.4 2229.5,619.4 2230.0,619.4 2230.5,619.4 2231.0,619.4 2231.5,619.4 2232.0,619.4 2232.5,619.4 2233.0,619.4 2233.5,619.4 2234.0,619.4 2234.5,619.4 2235.0,619.4 2235.5,619.4 2236.0,619.4 2236.5,619.4 2237.0,619.4 2237.5,619.4 2238.0,619.4 2238.5,619.4 2239.0,619.4 2239.5,619.4 2240.0,619.4 2240.5,619.4 2241.0,619.4 2241.5,619.4 2242.0,619.4 2242.5,619.4 2243.0,619.4 2243.5,619.4 2244.0,619.4 2244.5,619.4 2245.0,619.4 2245.5,619.4 2246.0,619.4 2246.5,619.4 2247.0,619.4 2247.5,619.4 2248.0,619.4 2248.5,619.4 2249.0,619.4 2249.5,619.4 2250.0,619.4 2250.5,619.4 2251.0,619.4 2251.5,619.4 2252.0,619.4 2252.5,619.4 2253.0,619.4 2253.5,619.4 2254.0,619.4 2254.5,619.4 2255.0,619.4 2255.5,619.4 2256.0,619.4 2256.5,619.4 2257.0,619.4 2257.5,619.4 2258.0,619.4 2258.5,619.4 2259.0,619.4 2259.5,619.4 2260.0,619.4 2260.5,619.4 2261.0,619.4 2261.5,619.4 2262.0,619.4 2262.5,619.4 2263.0,619.4 2263.5,619.4" fill="none" stroke="#000" stroke-width="3.1" stroke-linejoin="round" shape-rendering="crispEdges"/>
<path d="M145,646.5 H2264.5" stroke="#000" stroke-width="3" fill="none" shape-rendering="crispEdges"/>
<path d="M260.6,646.5 V660.8 M403.6,646.5 V674.8 M546.6,646.5 V660.8 M689.6,646.5 V674.8 M832.6,646.5 V660.8 M975.5,646.5 V674.8 M1118.5,646.5 V660.8 M1261.5,646.5 V674.8 M1404.5,646.5 V660.8 M1547.5,646.5 V674.8 M1690.5,646.5 V660.8 M1833.5,646.5 V674.8 M1976.4,646.5 V660.8 M2119.4,646.5 V674.8 M2262.4,646.5 V660.8" stroke="#000" stroke-width="2.7" fill="none" shape-rendering="crispEdges"/>
<text transform="translate(2096.5,759.7) scale(0.975,1.03)" font-size="86.3" fill="#000">2</text>
<text transform="translate(1811.9,759.7) scale(0.9340499999999999,1.03)" font-size="86.3" fill="#000">3</text>
<text transform="translate(1524.7,759.7) scale(0.9438,1.03)" font-size="86.3" fill="#000">4</text>
<text transform="translate(1239.4,759.7) scale(0.9281999999999999,1.03)" font-size="86.3" fill="#000">5</text>
<text transform="translate(952.5,759.7) scale(0.972075,1.03)" font-size="86.3" fill="#000">6</text>
<text transform="translate(665.8,759.7) scale(1.003275,1.03)" font-size="86.3" fill="#000">7</text>
<text transform="translate(381.5,759.7) scale(0.9320999999999999,1.03)" font-size="86.3" fill="#000">8</text>
<text x="15.9" y="754.8" font-size="86.3" fill="#000">ppm</text>
<text transform="translate(251.3,285.9) scale(1.0,1.03)" font-size="73.5" fill="#0000ff" clip-path="url(#c1_735)">10</text>
<text transform="translate(402.4,264.1) scale(0.986,1.03)" font-size="73.5" fill="#0000ff">9</text>
<text transform="translate(459.9,460.0) scale(0.956,1.03)" font-size="73.5" fill="#0000ff">8</text>
<text transform="translate(643.3,288.0) scale(1.029,1.03)" font-size="73.5" fill="#0000ff">7</text>
<text transform="translate(718.1,231.1) scale(0.997,1.03)" font-size="73.5" fill="#0000ff">6</text>
<text transform="translate(735.7,86.0) scale(0.973,1.03)" font-size="73.5" fill="#0000ff">4+5</text>
<text transform="translate(1232.4,72.4) scale(0.958,1.03)" font-size="73.5" fill="#0000ff">3</text>
<text transform="translate(1744.7,272.2) scale(1.0,1.03)" font-size="73.5" fill="#0000ff">2</text>
<text transform="translate(2117.4,246.5) scale(1.0,1.03)" font-size="73.5" fill="#0000ff" clip-path="url(#c1_735)">1</text>
<text x="1494.9 1564.8 1606.2 1629.2 1671.3" y="337.8" font-size="73.5" fill="#000">Water</text>
<text transform="translate(1863.3,402.0) scale(1.0,1.045)" font-size="73.5" fill="#000">DMSO</text>
<path d="M997.6,845.5 L1045.8,873.4 M1045.8,873.4 L1045.8,929.1 M1045.8,929.1 L997.6,956.9 M997.6,956.9 L949.4,929.1 M949.4,929.1 L949.4,873.4 M949.4,873.4 L997.6,845.5 M959.7,879.6 L997.8,857.6 M1035.2,879.2 L1035.2,923.2 M997.8,944.8 L959.7,922.8 M1187.3,955.5 L1235.5,983.4 M1235.5,983.4 L1235.5,1039.0 M1235.5,1039.0 L1187.3,1066.9 M1187.3,1066.9 L1139.1,1039.1 M1139.1,1039.1 L1139.1,983.4 M1139.1,983.4 L1187.3,955.5 M1149.4,989.6 L1187.5,967.6 M1224.9,989.2 L1224.9,1033.2 M1187.5,1054.8 L1149.4,1032.8 M1472.6,955.6 L1520.8,983.4 M1520.8,983.4 L1520.8,1039.1 M1520.8,1039.1 L1472.6,1067.0 M1472.6,1067.0 L1424.4,1039.2 M1424.4,1039.2 L1424.4,983.4 M1424.4,983.4 L1472.6,955.6 M1434.7,989.7 L1472.8,967.7 M1510.2,989.3 L1510.2,1033.3 M1472.8,1054.9 L1434.7,1032.9 M1329.5,1204.8 L1377.1,1232.3 M1377.1,1232.3 L1377.1,1287.3 M1377.1,1287.3 L1329.5,1314.8 M1329.5,1314.8 L1281.9,1287.3 M1281.9,1287.3 L1281.9,1232.3 M1281.9,1232.3 L1329.5,1204.8 M1329.2,1216.9 L1366.8,1238.6 M1366.8,1281.0 L1329.2,1302.7 M1292.5,1281.5 L1292.5,1238.1 M1377.7,1066.5 L1377.7,1122.1 M1377.7,1122.1 L1329.5,1150.0 M1329.5,1150.0 L1281.3,1122.2 M1281.3,1122.2 L1281.3,1066.5 M1281.3,1066.5 L1308.0,1051.0 M1351.0,1051.0 L1377.7,1066.5 M1343.5,1058.9 L1367.4,1072.7 M1367.4,1115.9 L1329.3,1137.9 M1291.9,1116.3 L1291.9,1072.3 M922.8,857.9 L949.4,873.4 M1045.8,929.1 L1072.2,944.9 M1112.2,967.6 L1139.1,983.4 M1235.5,1039.0 L1281.3,1066.5 M1377.7,1066.5 L1424.4,1039.2 M1520.8,983.4 L1548.1,968.0 M1650.7,836.7 L1701.5,858.9 M1701.5,858.9 L1706.6,914.6 M1706.6,914.6 L1661.9,946.9 M1661.9,946.9 L1611.9,924.7 M1611.9,924.7 L1606.4,869.0 M1606.4,869.0 L1650.7,836.7 M1617.2,874.2 L1652.2,848.7 M1691.5,865.9 L1695.5,909.9 M1661.0,934.9 L1621.5,917.3 M1586.0,942.5 L1611.9,924.7 M1701.5,858.9 L1725.2,842.1 M1329.5,1150.0 L1329.5,1204.8 M1329.5,1314.8 L1329.5,1348.5 M1309.8,1385.4 L1286.0,1402.6 M1286.0,1402.6 L1301.8,1454.6 M1301.8,1454.6 L1357.4,1454.6 M1357.4,1454.6 L1374.6,1402.6 M1374.6,1402.6 L1349.9,1385.0" stroke="#000" stroke-width="3.4" fill="none" stroke-linecap="round" stroke-linejoin="round" shape-rendering="crispEdges"/>
<text transform="translate(1074.2,972.9) scale(1.0,1.045)" font-size="45.5" fill="#000">O</text>
<text transform="translate(1549.2,973.4) scale(1.0,1.045)" font-size="45.5" fill="#000">O</text>
<text transform="translate(1312.7,1055.8) scale(1.0,1.045)" font-size="45.5" fill="#000">N</text>
<text transform="translate(1312.6,1386.8) scale(1.0,1.045)" font-size="45.5" fill="#000">N</text>
<text transform="scale(1,1.045)" fill="#000"><tspan x="833.8" y="825.6" font-size="45.5">H</tspan><tspan x="867.1" y="835.3" font-size="33.0">2</tspan><tspan x="885.8" y="825.6" font-size="45.5">N</tspan></text>
<text transform="scale(1,1.045)" fill="#000"><tspan x="1728.5" y="807.8" font-size="45.5">N</tspan><tspan x="1761.2" y="807.8" font-size="45.5">H</tspan><tspan x="1795.2" y="816.0" font-size="33.0">2</tspan></text>
<text x="929.9" y="849.9" font-size="73.5" fill="#ff0080">l</text>
<text x="1058.3" y="929.8" font-size="73.5" fill="#ff0080">m</text>
<text x="1117.3" y="959.6" font-size="73.5" fill="#ff0080">q</text>
<text x="910.2" y="968.8" font-size="73.5" fill="#ff0080">g</text>
<text x="982.4" y="1037.2" font-size="73.5" fill="#ff0080">e</text>
<text x="1113.6" y="1078.7" font-size="73.5" fill="#ff0080">f</text>
<text transform="translate(1251.0,1040.6) scale(1.08,1.0)" font-size="73.5" fill="#ff0080">j</text>
<text x="1381.9" y="1044.9" font-size="73.5" fill="#ff0080">p</text>
<text x="1181.8" y="1140.3" font-size="73.5" fill="#ff0080">h</text>
<text x="1239.9" y="1161.2" font-size="73.5" fill="#ff0080">c</text>
<text x="1296.3" y="1191.0" font-size="73.5" fill="#ff0080">o</text>
<text x="1239.9" y="1254.9" font-size="73.5" fill="#ff0080">d</text>
<text x="1312.0" y="1301.5" font-size="73.5" fill="#ff0080">n</text>
<text x="1262.8" y="1327.1" font-size="73.5" fill="#ff0080">i</text>
<text x="1246.0" y="1435.9" font-size="73.5" fill="#ff0080">b</text>
<text transform="translate(1275.9,1501.3) scale(0.91,1.0)" font-size="73.5" fill="#ff0080">a</text>
<text x="1351.3" y="1218.3" font-size="73.5" fill="#000">k</text>
<text transform="translate(1778.6,913.8) scale(0.958,1.03)" font-size="73.5" fill="#0000ff">3</text>
<text transform="translate(1720.0,956.2) scale(0.968,1.03)" font-size="73.5" fill="#0000ff">4</text>
<text transform="translate(1650.2,1013.0) scale(0.997,1.03)" font-size="73.5" fill="#0000ff">6</text>
<text transform="translate(1538.8,1090.3) scale(1.029,1.03)" font-size="73.5" fill="#0000ff">7</text>
<text transform="translate(1392.5,1166.3) scale(0.986,1.03)" font-size="73.5" fill="#0000ff">9</text>
<text transform="translate(1392.2,1249.2) scale(0.956,1.03)" font-size="73.5" fill="#0000ff">8</text>
<text transform="translate(1392.2,1326.0) scale(0.952,1.03)" font-size="73.5" fill="#0000ff">5</text>
<text transform="translate(1388.6,1404.0) scale(1.0,1.03)" font-size="73.5" fill="#0000ff">2</text>
<text transform="translate(1373.5,1482.6) scale(1.0,1.03)" font-size="73.5" fill="#0000ff" clip-path="url(#c1_735)">1</text>
<text transform="translate(1448.3,1131.9) scale(1.0,1.03)" font-size="73.5" fill="#0000ff" clip-path="url(#c1_735)">10</text>
<path d="M146,1525 h5 V1524 h3 V1525 h17 V1526 h2 V1525 h1 V1524 h3 V1526 h1 V1525 h1 V1524 h4 V1525 h1 V1524 h3 V1526 h1 V1523 h3 V1525 h1 V1524 h7 V1525 h2 V1524 h3 V1525 h4 V1524 h3 V1525 h5 V1526 h1 V1525 h3 V1526 h2 V1525 h2 V1524 h9 V1525 h5 V1526 h1 V1524 h3 V1525 h10 V1524 h3 V1525 h4 V1524 h3 V1525 h7 V1526 h3 V1524 h5 V1525 h5 V1524 h3 V1525 h1 V1524 h3 V1525 h2 V1524 h1 V1523 h3 V1525 h1 V1524 h3 V1526 h1 V1525 h3 V1523 h9 V1524 h1 V1525 h1 V1524 h3 V1525 h5 V1524 h6 V1525 h8 V1524 h3 V1525 h12 V1524 h4 V1525 h6 V1524 h7 V1525 h8 V1524 h2 V1523 h3 V1524 h3 V1525 h3 V1524 h4 V1525 h2 V1526 h1 V1524 h7 V1525 h2 V1524 h4 V1525 h6 V1524 h3 V1525 h3 V1523 h3 V1525 h1 V1526 h1 V1525 h2 V1524 h4 V1525 h3 V1524 h3 V1525 h2 V1524 h8 V1525 h1 V1523 h3 V1525 h6 V1524 h5 V1525 h2 V1524 h3 V1525 h4 V1524 h3 V1525 h3 V1524 h5 V1525 h5 V1524 h6 V1523 h3 V1525 h4 V1524 h3 V1525 h4 V1524 h4 V1525 h3 V1526 h1 V1524 h3 V1525 h1 V1524 h3 V1526 h2 V1525 h3 V1526 h1 V1525 h2 V1524 h3 V1525 h1 V1524 h4 V1522 h3 V1525 h9 V1526 h1 V1525 h5 V1526 h1 V1524 h3 V1525 h6 V1524 h3 V1526 h4 V1524 h3 V1526 h3 V1524 h11 V1525 h2 V1524 h14 V1525 h1 V1524 h3 V1525 h2 V1524 h3 V1525 h8 V1524 h6 V1525 h8 V1523 h3 V1525 h2 V1524 h3 V1525 h6 V1524 h6 V1526 h2 V1525 h2 V1523 h3 V1525 h2 V1524 h3 V1525 h9 V1524 h3 V1525 h1 V1524 h3 V1526 h1 V1525 h3 V1524 h18 V1525 h2 V1526 h1 V1524 h2 V1523 h3 V1525 h5 V1524 h4 V1525 h5 V1524 h3 V1525 h2 V1524 h3 V1525 h6 V1526 h2 V1524 h5 V1525 h1 V1526 h2 V1525 h7 V1523 h3 V1525 h1 V1524 h6 V1525 h2 V1526 h1 V1523 h3 V1524 h3 V1525 h11 V1524 h8 V1525 h4 V1524 h4 V1522 h3 V1523 h2 V1524 h1 V1523 h3 V1524 h1 V1525 h1 V1524 h5 V1526 h2 V1525 h13 V1524 h3 V1525 h5 V1524 h3 V1525 h5 V1524 h4 V1525 h3 V1524 h3 V1525 h9 V1524 h3 V1525 h2 V1524 h4 V1525 h7 V1524 h3 V1525 h2 V1524 h6 V1525 h13 V1526 h1 V1522 h3 V1525 h4 V1524 h4 V1525 h1 V1522 h3 V1525 h2 V1524 h4 V1525 h1 V1526 h2 V1525 h1 V1524 h4 V1526 h3 V1524 h3 V1525 h3 V1526 h5 V1525 h5 V1524 h3 V1525 h1 V1522 h3 V1524 h1 V1525 h2 V1524 h6 V1526 h1 V1525 h4 V1523 h3 V1526 h1 V1525 h3 V1524 h3 V1525 h1 V1526 h1 V1523 h3 V1524 h3 V1525 h3 V1526 h3 V1525 h2 V1522 h3 V1525 h2 V1524 h5 V1525 h13 V1526 h1 V1524 h7 V1525 h5 V1526 h1 V1525 h3 V1523 h3 V1525 h4 V1524 h3 V1525 h4 V1526 h1 V1525 h2 V1524 h1 V1523 h3 V1524 h8 V1525 h1 V1524 h5 V1525 h8 V1526 h1 V1524 h3 V1525 h1 V1524 h3 V1525 h2 V1526 h1 V1525 h4 V1524 h3 V1523 h3 V1524 h4 V1525 h3 V1523 h3 V1524 h3 V1525 h3 V1524 h3 V1525 h4 V1524 h4 V1525 h5 V1524 h1 V1522 h3 V1524 h2 V1525 h3 V1524 h5 V1525 h12 V1524 h7 V1523 h3 V1525 h1 V1524 h1 V1523 h3 V1525 h5 V1526 h1 V1524 h9 V1525 h1 V1524 h10 V1525 h5 V1523 h3 V1524 h6 V1525 h4 V1524 h3 V1526 h2 V1525 h22 V1524 h4 V1523 h3 V1520 h3 V1524 h3 V1525 h2 V1523 h3 V1524 h8 V1525 h1 V1524 h3 V1525 h1 V1524 h1 V1523 h3 V1525 h1 V1523 h3 V1524 h2 V1525 h4 V1524 h8 V1525 h1 V1526 h1 V1523 h4 V1524 h3 V1525 h4 V1522 h3 V1524 h2 V1525 h1 V1524 h3 V1525 h1 V1524 h5 V1526 h1 V1525 h5 V1524 h3 V1525 h1 V1524 h3 V1525 h4 V1524 h3 V1525 h1 V1524 h3 V1526 h1 V1523 h3 V1525 h4 V1526 h2 V1525 h4 V1526 h1 V1524 h3 V1525 h4 V1526 h1 V1525 h9 V1523 h3 V1525 h1 V1524 h12 V1525 h2 V1524 h3 V1525 h1 V1526 h1 V1525 h2 V1524 h3 V1525 h3 V1523 h3 V1524 h5 V1525 h4 V1524 h3 V1525 h1 V1524 h3 V1525 h4 V1524 h3 V1525 h11 V1526 h3 V1525 h1 V1524 h4 V1525 h4 V1524 h8 V1525 h1 V1524 h5 V1525 h9 V1524 h4 V1525 h2 V1524 h3 V1525 h2 V1524 h1 V1523 h3 V1524 h2 V1525 h3 V1524 h3 V1522 h3 V1525 h1 V1526 h3 V1525 h2 V1524 h4 V1525 h7 V1524 h3 V1526 h1 V1524 h6 V1525 h5 V1524 h1 V1523 h3 V1524 h7 V1523 h3 V1525 h1 V1526 h1 V1525 h3 V1524 h3 V1525 h3 V1524 h5 V1525 h2 V1526 h1 V1525 h1 V1523 h3 V1524 h1 V1526 h1 V1525 h7 V1524 h6 V1525 h1 V1524 h8 V1525 h2 V1526 h1 V1525 h10 V1524 h3 V1525 h2 V1524 h5 V1525 h3 V1524 h3 V1523 h3 V1524 h1 V1526 h1 V1524 h3 V1525 h2 V1526 h1 V1525 h3 V1526 h1 V1525 h3 V1524 h5 V1525 h2 V1526 h2 V1525 h1 V1523 h3 V1525 h4 V1523 h3 V1524 h1 V1525 h12 V1524 h5 V1525 h11 V1524 h3 V1525 h2 V1524 h7 V1525 h4 V1524 h6 V1523 h3 V1524 h2 V1525 h2 V1524 h9 V1525 h1 V1526 h1 V1525 h4 V1524 h3 V1525 h8 V1526 h1 V1524 h3 V1525 h3 V1524 h3 V1526 h1 V1524 h3 V1525 h1 V1523 h3 V1525 h3 V1524 h3 V1525 h7 V1524 h3 V1525 h5 V1524 h4 V1525 h2 V1524 h3 V1525 h6 V1524 h3 V1525 h6 V1524 h4 V1525 h3 V1523 h3 V1525 h12 V1524 h6 V1500 h18 V1522 h3 V1523 h1 V1522 h1 V1523 h1 V1521 h1 V1520 h3 V1518 h1 V1519 h2 V1521 h4 V1522 h4 V1521 h3 V1522 h10 V1523 h2 V1522 h3 V1523 h5 V1522 h3 V1523 h7 V1524 h5 V1522 h3 V1524 h1 V1523 h14 V1524 h1 V1523 h3 V1524 h1 V1523 h3 V1524 h4 V1525 h1 V1524 h2 V1523 h3 V1524 h1 V1523 h5 V1524 h13 V1525 h2 V1524 h2 V1523 h9 V1524 h5 V1525 h8 V1524 h6 V1525 h2 V1523 h3 V1525 h4 V1524 h3 V1525 h1 V1524 h3 V1523 h5 V1525 h1 V1524 h13 V1525 h2 V1524 h1 V1523 h3 V1526 h1 V1525 h6 V1524 h3 V1525 h3 V1524 h3 V1525 h1 V1524 h11 V1523 h3 V1525 h5 V1524 h5 V1525 h9 V1524 h4 V1523 h3 V1524 h5 V1525 h12 V1524 h4 V1523 h3 V1525 h1 V1523 h3 V1525 h2 V1523 h3 V1524 h6 V1525 h2 V1526 h1 V1525 h19 V1524 h2 V1523 h3 V1524 h2 V1525 h1 V1523 h3 V1524 h3 V1525 h3 V1526 h1 V1525 h2 V1523 h3 V1525 h2 V1524 h3 V1525 h6 V1524 h3 V1523 h6 V1525 h5 V1524 h3 V1525 h1 V1524 h3 V1525 h3 V1526 h1 V1525 h2 V1523 h3 V1524 h7 V1525 h11 V1524 h4 V1534 h-5 V1533 h-3 V1535 h-3 V1534 h-1 V1535 h-1 V1536 h-3 V1535 h-1 V1536 h-3 V1534 h-2 V1535 h-6 V1534 h-4 V1535 h-2 V1536 h-6 V1535 h-4 V1534 h-13 V1533 h-1 V1534 h-3 V1533 h-1 V1534 h-6 V1535 h-6 V1534 h-4 V1535 h-2 V1536 h-1 V1537 h-3 V1535 h-2 V1534 h-2 V1535 h-1 V1536 h-3 V1535 h-3 V1534 h-2 V1533 h-1 V1534 h-1 V1535 h-3 V1534 h-3 V1535 h-3 V1533 h-2 V1534 h-13 V1533 h-2 V1534 h-1 V1535 h-3 V1534 h-4 V1533 h-1 V1534 h-3 V1536 h-3 V1535 h-1 V1536 h-3 V1534 h-4 V1533 h-3 V1534 h-6 V1535 h-4 V1534 h-4 V1535 h-3 V1534 h-3 V1533 h-2 V1535 h-3 V1533 h-3 V1534 h-5 V1535 h-1 V1536 h-3 V1535 h-1 V1534 h-3 V1535 h-3 V1534 h-4 V1533 h-3 V1534 h-4 V1535 h-3 V1533 h-1 V1534 h-11 V1535 h-2 V1536 h-3 V1535 h-3 V1534 h-2 V1535 h-3 V1536 h-3 V1534 h-7 V1536 h-3 V1533 h-3 V1534 h-1 V1536 h-3 V1534 h-4 V1533 h-9 V1534 h-3 V1533 h-3 V1534 h-3 V1535 h-3 V1533 h-1 V1534 h-3 V1533 h-20 V1535 h-3 V1534 h-1 V1533 h-5 V1534 h-3 V1535 h-1 V1534 h-2 V1533 h-1 V1532 h-1 V1534 h-4 V1535 h-3 V1534 h-2 V1532 h-2 V1533 h-3 V1532 h-2 V1533 h-1 V1534 h-2 V1533 h-1 V1532 h-4 V1534 h-3 V1533 h-6 V1532 h-1 V1533 h-3 V1532 h-4 V1533 h-4 V1532 h-3 V1531 h-1 V1532 h-9 V1531 h-3 V1532 h-4 V1533 h-3 V1530 h-1 V1529 h-1 V1528 h-1 V1527 h-1 V1526 h-1 V1523 h-1 V1520 h-1 V1518 h-1 V1514 h-1 V1509 h-1 V1505 h-2 V1506 h-1 V1508 h-1 V1512 h-1 V1517 h-1 V1523 h-1 V1531 h-1 V1533 h-1 V1534 h-4 V1535 h-5 V1536 h-3 V1535 h-3 V1534 h-1 V1535 h-3 V1534 h-2 V1535 h-3 V1534 h-1 V1535 h-5 V1534 h-16 V1536 h-3 V1533 h-4 V1536 h-3 V1534 h-5 V1533 h-2 V1534 h-3 V1536 h-3 V1534 h-3 V1535 h-6 V1534 h-9 V1535 h-3 V1533 h-1 V1535 h-3 V1533 h-1 V1534 h-2 V1535 h-6 V1534 h-4 V1535 h-3 V1534 h-1 V1535 h-3 V1533 h-1 V1535 h-6 V1534 h-2 V1535 h-5 V1534 h-3 V1533 h-2 V1534 h-7 V1535 h-3 V1536 h-3 V1534 h-1 V1533 h-1 V1534 h-3 V1533 h-2 V1534 h-4 V1535 h-8 V1536 h-3 V1534 h-10 V1533 h-1 V1535 h-3 V1534 h-2 V1535 h-3 V1534 h-2 V1535 h-3 V1534 h-3 V1533 h-2 V1535 h-5 V1534 h-3 V1537 h-3 V1534 h-5 V1537 h-3 V1535 h-4 V1534 h-2 V1535 h-3 V1534 h-2 V1535 h-4 V1534 h-3 V1533 h-1 V1534 h-9 V1535 h-3 V1534 h-2 V1536 h-3 V1534 h-2 V1535 h-4 V1534 h-2 V1536 h-3 V1534 h-1 V1533 h-1 V1535 h-8 V1533 h-3 V1534 h-3 V1535 h-3 V1533 h-2 V1535 h-10 V1534 h-6 V1533 h-1 V1534 h-1 V1535 h-9 V1534 h-1 V1533 h-1 V1534 h-6 V1535 h-4 V1534 h-2 V1536 h-3 V1534 h-2 V1536 h-3 V1534 h-1 V1535 h-6 V1534 h-7 V1535 h-6 V1534 h-3 V1535 h-6 V1534 h-7 V1535 h-3 V1534 h-1 V1535 h-3 V1533 h-1 V1535 h-7 V1534 h-7 V1537 h-3 V1535 h-6 V1534 h-6 V1536 h-3 V1534 h-3 V1533 h-1 V1534 h-1 V1535 h-3 V1534 h-9 V1537 h-3 V1536 h-3 V1534 h-1 V1535 h-3 V1537 h-3 V1534 h-7 V1535 h-6 V1534 h-4 V1535 h-3 V1534 h-1 V1535 h-3 V1534 h-7 V1535 h-4 V1534 h-1 V1533 h-1 V1534 h-3 V1535 h-6 V1538 h-3 V1535 h-3 V1534 h-1 V1533 h-1 V1536 h-3 V1535 h-1 V1534 h-2 V1536 h-3 V1534 h-3 V1535 h-15 V1534 h-1 V1535 h-6 V1533 h-1 V1534 h-14 V1535 h-4 V1534 h-2 V1535 h-3 V1534 h-14 V1536 h-3 V1535 h-2 V1534 h-1 V1535 h-3 V1534 h-3 V1535 h-3 V1534 h-3 V1536 h-3 V1535 h-3 V1534 h-2 V1535 h-7 V1534 h-1 V1535 h-3 V1534 h-1 V1535 h-3 V1534 h-6 V1535 h-3 V1534 h-3 V1532 h-1 V1535 h-3 V1533 h-2 V1534 h-1 V1535 h-4 V1534 h-1 V1535 h-3 V1533 h-1 V1534 h-3 V1535 h-3 V1534 h-1 V1533 h-1 V1535 h-3 V1534 h-3 V1535 h-4 V1534 h-21 V1536 h-3 V1533 h-1 V1534 h-13 V1536 h-3 V1535 h-3 V1534 h-2 V1535 h-8 V1533 h-1 V1534 h-6 V1536 h-3 V1534 h-1 V1535 h-8 V1534 h-2 V1535 h-3 V1534 h-1 V1536 h-3 V1534 h-6 V1536 h-3 V1535 h-2 V1534 h-9 V1533 h-3 V1534 h-1 V1536 h-3 V1535 h-3 V1536 h-6 V1534 h-4 V1536 h-3 V1534 h-2 V1535 h-3 V1533 h-3 V1534 h-1 V1536 h-3 V1534 h-2 V1535 h-4 V1534 h-3 V1535 h-3 V1534 h-12 V1535 h-5 V1534 h-1 V1535 h-3 V1534 h-14 V1535 h-3 V1534 h-5 V1535 h-12 V1534 h-1 V1535 h-3 V1534 h-1 V1536 h-3 V1535 h-2 V1533 h-1 V1535 h-3 V1534 h-2 V1536 h-3 V1534 h-5 V1535 h-3 V1534 h-1 V1535 h-7 V1533 h-1 V1535 h-3 V1534 h-3 V1533 h-1 V1534 h-3 V1535 h-3 V1534 h-1 V1535 h-3 V1536 h-3 V1534 h-4 V1533 h-1 V1534 h-8 V1533 h-1 V1535 h-5 V1533 h-1 V1534 h-3 V1536 h-3 V1534 h-4 V1535 h-3 V1534 h-4 V1536 h-3 V1535 h-8 V1533 h-4 V1534 h-5 V1535 h-10 V1534 h-3 V1533 h-1 V1535 h-1 V1536 h-3 V1535 h-3 V1534 h-3 V1535 h-3 V1534 h-1 V1533 h-1 V1534 h-1 V1535 h-6 V1534 h-4 V1535 h-4 V1536 h-3 V1534 h-3 V1536 h-4 V1535 h-1 V1534 h-1 V1535 h-3 V1534 h-5 V1533 h-1 V1536 h-3 V1535 h-4 V1534 h-3 V1533 h-3 V1534 h-1 V1535 h-3 V1534 h-1 V1535 h-4 V1534 h-1 V1533 h-2 V1535 h-3 V1534 h-1 V1535 h-3 V1534 h-5 V1536 h-3 V1535 h-1 V1534 h-2 V1535 h-5 V1534 h-7 V1535 h-3 V1533 h-1 V1534 h-17 V1533 h-1 V1534 h-7 V1536 h-3 V1535 h-4 V1533 h-1 V1534 h-7 V1535 h-3 V1536 h-3 V1534 h-1 V1535 h-3 V1534 h-12 V1535 h-6 V1534 h-2 V1536 h-3 V1535 h-2 V1536 h-3 V1535 h-3 V1534 h-2 V1533 h-1 V1534 h-5 V1535 h-5 V1534 h-8 V1535 h-3 V1534 h-7 V1535 h-1 V1536 h-3 V1535 h-3 V1534 h-5 V1535 h-3 V1534 h-6 V1535 h-7 V1536 h-3 V1534 h-1 V1535 h-3 V1534 h-3 V1533 h-1 V1534 h-1 V1536 h-6 V1535 h-1 V1534 h-1 V1536 h-3 V1534 h-11 V1533 h-3 V1534 h-1 V1535 h-3 V1534 h-1 V1535 h-4 V1536 h-3 V1535 h-3 V1533 h-1 V1534 h-3 V1533 h-2 V1535 h-3 V1534 h-1 V1535 h-2 V1536 h-3 V1534 h-2 V1535 h-3 V1534 h-3 V1535 h-5 V1534 h-5 V1533 h-1 V1536 h-3 V1535 h-2 V1534 h-1 V1536 h-3 V1534 h-1 V1535 h-7 V1534 h-7 V1535 h-4 V1534 h-1 V1535 h-3 V1534 h-1 V1536 h-3 V1535 h-1 V1533 h-1 V1536 h-3 V1533 h-1 V1535 h-7 V1534 h-4 V1535 h-3 V1533 h-1 V1534 h-1 V1535 h-3 V1534 h-8 V1535 h-5 V1534 h-2 V1533 h-3 V1534 h-4 V1536 h-3 V1534 h-5 V1535 h-1 V1536 h-3 V1534 h-4 V1535 h-3 V1534 h-1 V1533 h-1 V1534 h-6 V1536 h-3 V1535 h-10 V1534 h-3 V1533 h-1 V1535 h-3 V1534 h-2 V1535 h-1 V1536 h-3 V1534 h-2 V1533 h-1 V1534 h-2 V1535 h-3 V1534 h-2 V1533 h-1 V1534 h-3 V1535 h-3 V1534 h-4 V1535 h-3 V1534 h-3 V1536 h-6 V1534 h-1 V1535 h-3 V1534 h-3 V1535 h-3 V1534 h-2 V1535 h-3 V1533 h-3 V1535 h-3 V1534 h-2 V1535 h-1 V1536 h-3 V1535 h-3 V1534 h-2 V1535 h-3 V1536 h-3 V1535 h-2 V1534 h-5 V1533 h-5 V1534 h-3 V1533 h-6 V1535 h-3 V1534 h-14 V1535 h-3 V1534 h-3 V1535 h-3 V1534 h-1 V1535 h-4 V1534 h-3 V1535 h-3 V1534 h-2 V1533 h-1 V1534 h-2 V1535 h-5 V1534 h-4 V1535 h-5 V1537 h-3 V1534 h-2 V1535 h-3 V1534 h-5 V1533 h-2 V1534 h-1 V1535 h-6 V1534 h-2 V1535 h-1 V1536 h-3 V1535 h-1 V1536 h-6 V1535 h-3 V1534 h-3 V1533 h-1 V1534 h-2 V1535 h-3 V1534 h-4 V1535 h-7 V1534 h-2 V1535 h-3 V1534 h-1 V1535 h-3 V1534 h-1 V1535 h-3 V1534 h-4 V1535 h-3 V1534 h-1 V1535 h-2 V1537 h-3 V1535 h-8 V1534 h-1 V1535 h-3 V1534 h-3 V1533 h-1 V1534 h-7 V1535 h-2 Z" fill="#000" shape-rendering="crispEdges"/>
<path d="M271.7,1384.9 h3 V1529.3 h-3 Z M325.9,1411.3 h3 V1529.3 h-3 Z M410.1,1476.6 h3 V1529.3 h-3 Z M421.7,1457.2 h3 V1529.3 h-3 Z M461.9,1373.3 h3 V1529.3 h-3 Z M463.4,1421.0 h3 V1529.3 h-3 Z M627.0,1419.2 h3 V1529.3 h-3 Z M688.0,1376.4 h3 V1529.3 h-3 Z M694.6,1447.6 h3 V1529.3 h-3 Z M750.6,1487.8 h3.5 V1529.3 h-3.5 Z M785.0,1224.7 h4 V1529.3 h-4 Z M784.0,1298.4 h3.6 V1529.3 h-3.6 Z M845.9,1353.7 h3.6 V1529.3 h-3.6 Z M844.7,1471.0 h3.4 V1529.3 h-3.4 Z M863.1,1205.3 h4 V1529.3 h-4 Z M882.3,1473.7 h3 V1529.3 h-3 Z M906.0,1452.7 h3 V1529.3 h-3 Z M1760.0,1423.8 h3.4 V1529.3 h-3.4 Z M2055.1,1366.6 h3 V1529.3 h-3 Z M1458.6,1517.0 h2 V1529.3 h-2 Z M1698.0,1517.0 h2 V1529.3 h-2 Z M1861.0,849.3 h8 V1506 h-8 Z M1861.0,987.2 h10 V1506 h-10 Z M1859.0,1018.0 h11.9 V1506 h-11.9 Z M1859.2,1348.3 h13.5 V1506 h-13.5 Z M1856.2,1361.2 h16.5 V1506 h-16.5 Z" fill="#000" shape-rendering="crispEdges"/>
<path d="M145,1550.3 H2265" stroke="#000" stroke-width="3" fill="none" shape-rendering="crispEdges"/>
<path d="M147.0,1550.3 V1565.4 M279.3,1550.3 V1578.8 M411.6,1550.3 V1565.4 M543.8,1550.3 V1578.8 M676.1,1550.3 V1565.4 M808.4,1550.3 V1578.8 M940.7,1550.3 V1565.4 M1073.0,1550.3 V1578.8 M1205.2,1550.3 V1565.4 M1337.5,1550.3 V1578.8 M1469.8,1550.3 V1565.4 M1602.0,1550.3 V1578.8 M1734.3,1550.3 V1565.4 M1866.6,1550.3 V1578.8 M1998.9,1550.3 V1565.4 M2131.2,1550.3 V1578.8 M2263.4,1550.3 V1565.4" stroke="#000" stroke-width="2.7" fill="none" shape-rendering="crispEdges"/>
<text transform="translate(2085.4,1664.2) scale(0.975,1.03)" font-size="86.3" fill="#000">20</text>
<text transform="translate(1822.4,1664.2) scale(0.9593999999999999,1.03)" font-size="86.3" fill="#000">40</text>
<text transform="translate(1556.3,1664.2) scale(0.97305,1.03)" font-size="86.3" fill="#000">60</text>
<text transform="translate(1292.9,1664.2) scale(0.95355,1.03)" font-size="86.3" fill="#000">80</text>
<text transform="translate(1000.6,1664.2) scale(0.985,1.03)" font-size="86.3" fill="#000" clip-path="url(#c1_863)">100</text>
<text transform="translate(738.5,1664.2) scale(0.985,1.03)" font-size="86.3" fill="#000" clip-path="url(#c1_863)">120</text>
<text transform="translate(475.4,1664.2) scale(0.974165,1.03)" font-size="86.3" fill="#000" clip-path="url(#c1_863)">140</text>
<text transform="translate(209.5,1664.2) scale(0.984015,1.03)" font-size="86.3" fill="#000" clip-path="url(#c1_863)">160</text>
<text x="23.2" y="1663.2" font-size="86.3" fill="#000">ppm</text>
<text x="250.5" y="1384.6" font-size="73.5" fill="#ff0080">q</text>
<text x="302.3" y="1388.6" font-size="73.5" fill="#ff0080">p</text>
<text x="365.0" y="1487.3" font-size="73.5" fill="#ff0080">o</text>
<text x="405.9" y="1436.8" font-size="73.5" fill="#ff0080">n</text>
<text x="445.1" y="1357.2" font-size="73.5" fill="#ff0080">m</text>
<text x="472.0" y="1445.9" font-size="73.5" fill="#ff0080">l</text>
<text x="606.1" y="1433.4" font-size="73.5" fill="#ff0080">k</text>
<text transform="translate(665.6,1369.6) scale(1.08,1.0)" font-size="73.5" fill="#ff0080">j</text>
<text x="706.9" y="1476.5" font-size="73.5" fill="#ff0080">i</text>
<text x="737.8" y="1479.0" font-size="73.5" fill="#ff0080">h</text>
<text x="742.4" y="1250.0" font-size="73.5" fill="#ff0080">g</text>
<text x="809.4" y="1349.0" font-size="73.5" fill="#ff0080">f</text>
<text x="877.4" y="1250.4" font-size="73.5" fill="#ff0080">e</text>
<text x="868.9" y="1453.1" font-size="73.5" fill="#ff0080">d</text>
<text x="918.9" y="1459.0" font-size="73.5" fill="#ff0080">c</text>
<text x="1742.0" y="1408.3" font-size="73.5" fill="#ff0080">b</text>
<text transform="translate(2068.1,1411.8) scale(0.91,1.0)" font-size="73.5" fill="#ff0080">a</text>
<text transform="translate(1895.2,1139.6) scale(1.0,1.045)" font-size="73.5" fill="#000">DMSO</text>
</svg>
</body></html>
